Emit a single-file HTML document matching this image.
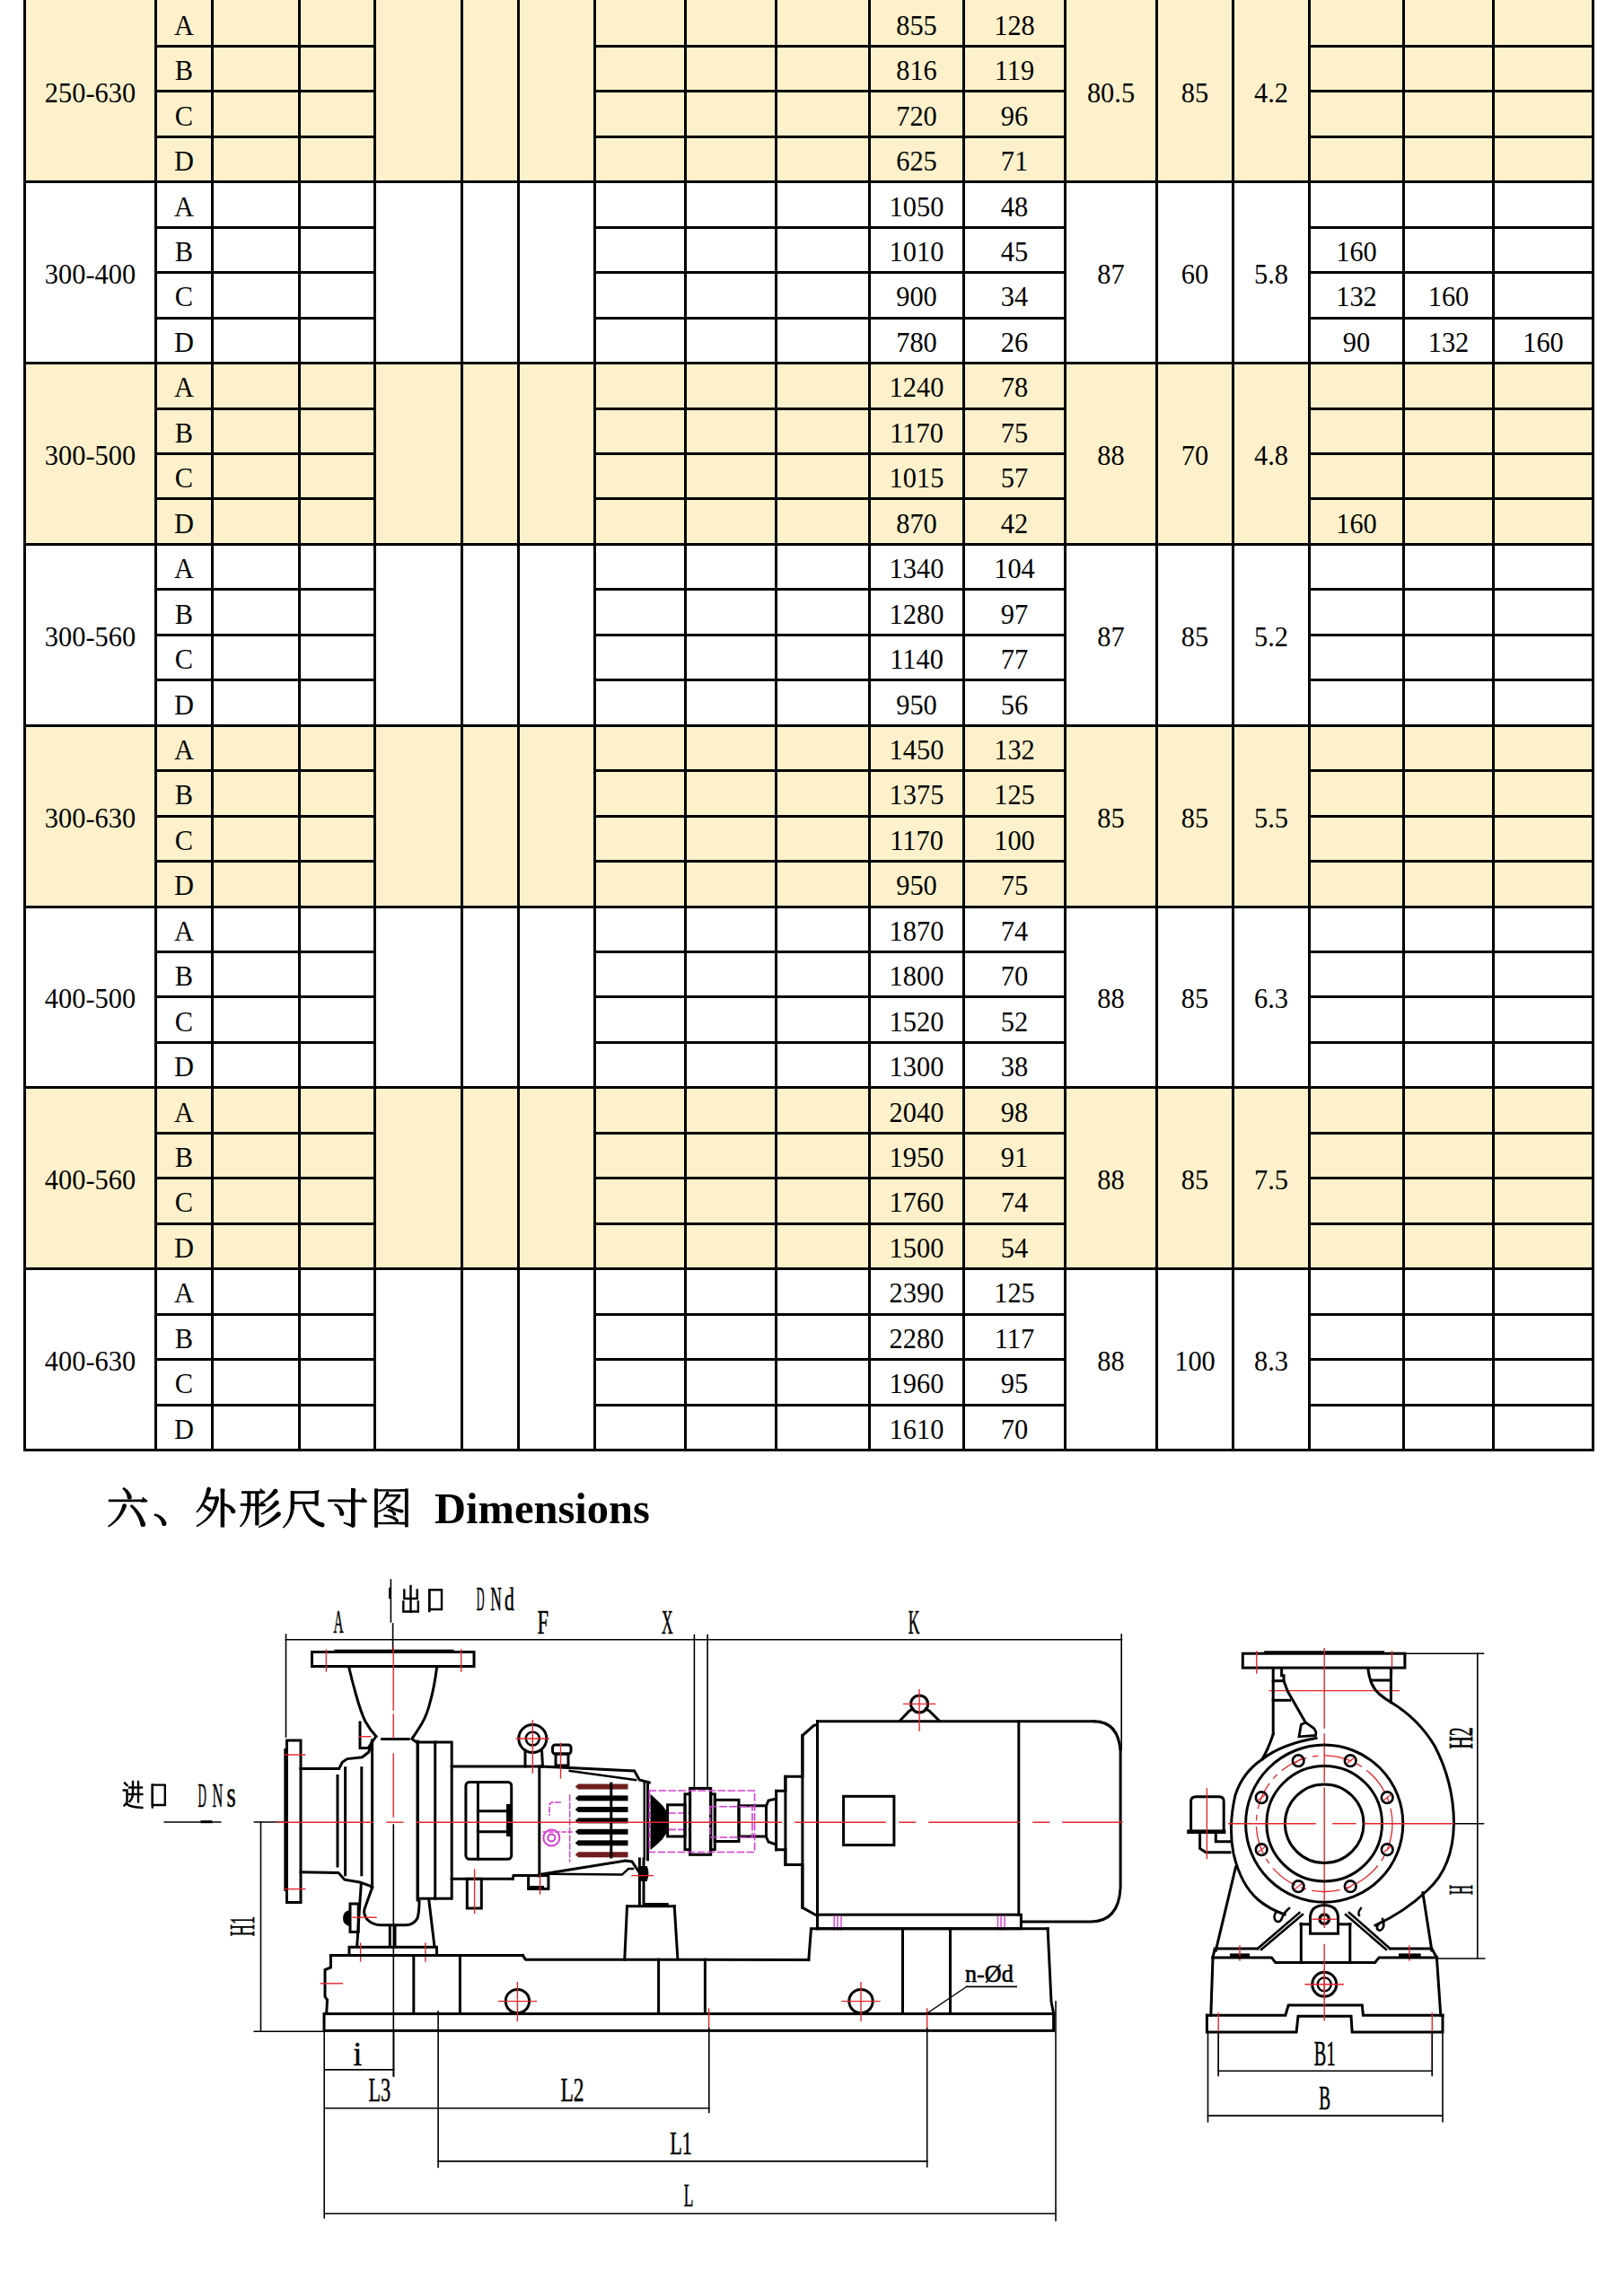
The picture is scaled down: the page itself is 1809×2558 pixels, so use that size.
<!DOCTYPE html>
<html><head><meta charset="utf-8"><title>Dimensions</title>
<style>
html,body{margin:0;padding:0;background:#fff;}
body{width:1809px;height:2558px;position:relative;overflow:hidden;font-family:"Liberation Serif",serif;}
.tbl{position:absolute;left:0;top:0;}
.hd{position:absolute;left:0;top:1640px;}
.dw{position:absolute;left:0;top:0;}
</style></head><body>
<svg class="tbl" width="1809" height="1617" viewBox="0 0 1809 1617"><g shape-rendering="crispEdges"><rect x="26" y="0.00" width="1750" height="204.35" fill="#FCF1CB"/><rect x="26" y="403.15" width="1750" height="204.80" fill="#FCF1CB"/><rect x="26" y="806.75" width="1750" height="204.80" fill="#FCF1CB"/><rect x="26" y="1210.35" width="1750" height="204.80" fill="#FCF1CB"/><rect x="172" y="50.00" width="247" height="3.00" fill="#000"/><rect x="661" y="50.00" width="527" height="3.00" fill="#000"/><rect x="1457" y="50.00" width="319" height="3.00" fill="#000"/><rect x="172" y="100.00" width="247" height="3.00" fill="#000"/><rect x="661" y="100.00" width="527" height="3.00" fill="#000"/><rect x="1457" y="100.00" width="319" height="3.00" fill="#000"/><rect x="172" y="151.00" width="247" height="3.00" fill="#000"/><rect x="661" y="151.00" width="527" height="3.00" fill="#000"/><rect x="1457" y="151.00" width="319" height="3.00" fill="#000"/><rect x="26" y="201.00" width="1750" height="3.00" fill="#000"/><rect x="172" y="252.00" width="247" height="3.00" fill="#000"/><rect x="661" y="252.00" width="527" height="3.00" fill="#000"/><rect x="1457" y="252.00" width="319" height="3.00" fill="#000"/><rect x="172" y="302.00" width="247" height="3.00" fill="#000"/><rect x="661" y="302.00" width="527" height="3.00" fill="#000"/><rect x="1457" y="302.00" width="319" height="3.00" fill="#000"/><rect x="172" y="353.00" width="247" height="3.00" fill="#000"/><rect x="661" y="353.00" width="527" height="3.00" fill="#000"/><rect x="1457" y="353.00" width="319" height="3.00" fill="#000"/><rect x="26" y="403.00" width="1750" height="3.00" fill="#000"/><rect x="172" y="454.00" width="247" height="3.00" fill="#000"/><rect x="661" y="454.00" width="527" height="3.00" fill="#000"/><rect x="1457" y="454.00" width="319" height="3.00" fill="#000"/><rect x="172" y="504.00" width="247" height="3.00" fill="#000"/><rect x="661" y="504.00" width="527" height="3.00" fill="#000"/><rect x="1457" y="504.00" width="319" height="3.00" fill="#000"/><rect x="172" y="554.00" width="247" height="3.00" fill="#000"/><rect x="661" y="554.00" width="527" height="3.00" fill="#000"/><rect x="1457" y="554.00" width="319" height="3.00" fill="#000"/><rect x="26" y="605.00" width="1750" height="3.00" fill="#000"/><rect x="172" y="655.00" width="247" height="3.00" fill="#000"/><rect x="661" y="655.00" width="527" height="3.00" fill="#000"/><rect x="1457" y="655.00" width="319" height="3.00" fill="#000"/><rect x="172" y="706.00" width="247" height="3.00" fill="#000"/><rect x="661" y="706.00" width="527" height="3.00" fill="#000"/><rect x="1457" y="706.00" width="319" height="3.00" fill="#000"/><rect x="172" y="756.00" width="247" height="3.00" fill="#000"/><rect x="661" y="756.00" width="527" height="3.00" fill="#000"/><rect x="1457" y="756.00" width="319" height="3.00" fill="#000"/><rect x="26" y="807.00" width="1750" height="3.00" fill="#000"/><rect x="172" y="857.00" width="247" height="3.00" fill="#000"/><rect x="661" y="857.00" width="527" height="3.00" fill="#000"/><rect x="1457" y="857.00" width="319" height="3.00" fill="#000"/><rect x="172" y="908.00" width="247" height="3.00" fill="#000"/><rect x="661" y="908.00" width="527" height="3.00" fill="#000"/><rect x="1457" y="908.00" width="319" height="3.00" fill="#000"/><rect x="172" y="958.00" width="247" height="3.00" fill="#000"/><rect x="661" y="958.00" width="527" height="3.00" fill="#000"/><rect x="1457" y="958.00" width="319" height="3.00" fill="#000"/><rect x="26" y="1009.00" width="1750" height="3.00" fill="#000"/><rect x="172" y="1059.00" width="247" height="3.00" fill="#000"/><rect x="661" y="1059.00" width="527" height="3.00" fill="#000"/><rect x="1457" y="1059.00" width="319" height="3.00" fill="#000"/><rect x="172" y="1109.00" width="247" height="3.00" fill="#000"/><rect x="661" y="1109.00" width="527" height="3.00" fill="#000"/><rect x="1457" y="1109.00" width="319" height="3.00" fill="#000"/><rect x="172" y="1160.00" width="247" height="3.00" fill="#000"/><rect x="661" y="1160.00" width="527" height="3.00" fill="#000"/><rect x="1457" y="1160.00" width="319" height="3.00" fill="#000"/><rect x="26" y="1210.00" width="1750" height="3.00" fill="#000"/><rect x="172" y="1261.00" width="247" height="3.00" fill="#000"/><rect x="661" y="1261.00" width="527" height="3.00" fill="#000"/><rect x="1457" y="1261.00" width="319" height="3.00" fill="#000"/><rect x="172" y="1311.00" width="247" height="3.00" fill="#000"/><rect x="661" y="1311.00" width="527" height="3.00" fill="#000"/><rect x="1457" y="1311.00" width="319" height="3.00" fill="#000"/><rect x="172" y="1362.00" width="247" height="3.00" fill="#000"/><rect x="661" y="1362.00" width="527" height="3.00" fill="#000"/><rect x="1457" y="1362.00" width="319" height="3.00" fill="#000"/><rect x="26" y="1412.00" width="1750" height="3.00" fill="#000"/><rect x="172" y="1463.00" width="247" height="3.00" fill="#000"/><rect x="661" y="1463.00" width="527" height="3.00" fill="#000"/><rect x="1457" y="1463.00" width="319" height="3.00" fill="#000"/><rect x="172" y="1513.00" width="247" height="3.00" fill="#000"/><rect x="661" y="1513.00" width="527" height="3.00" fill="#000"/><rect x="1457" y="1513.00" width="319" height="3.00" fill="#000"/><rect x="172" y="1564.00" width="247" height="3.00" fill="#000"/><rect x="661" y="1564.00" width="527" height="3.00" fill="#000"/><rect x="1457" y="1564.00" width="319" height="3.00" fill="#000"/><rect x="26" y="1614.00" width="1750" height="3.00" fill="#000"/><rect x="26" y="0.00" width="3" height="1617.00" fill="#000"/><rect x="172" y="0.00" width="3" height="1617.00" fill="#000"/><rect x="235" y="0.00" width="3" height="1617.00" fill="#000"/><rect x="332" y="0.00" width="3" height="1617.00" fill="#000"/><rect x="416" y="0.00" width="3" height="1617.00" fill="#000"/><rect x="513" y="0.00" width="3" height="1617.00" fill="#000"/><rect x="576" y="0.00" width="3" height="1617.00" fill="#000"/><rect x="661" y="0.00" width="3" height="1617.00" fill="#000"/><rect x="762" y="0.00" width="3" height="1617.00" fill="#000"/><rect x="863" y="0.00" width="3" height="1617.00" fill="#000"/><rect x="967" y="0.00" width="3" height="1617.00" fill="#000"/><rect x="1072" y="0.00" width="3" height="1617.00" fill="#000"/><rect x="1185" y="0.00" width="3" height="1617.00" fill="#000"/><rect x="1287" y="0.00" width="3" height="1617.00" fill="#000"/><rect x="1372" y="0.00" width="3" height="1617.00" fill="#000"/><rect x="1457" y="0.00" width="3" height="1617.00" fill="#000"/><rect x="1562" y="0.00" width="3" height="1617.00" fill="#000"/><rect x="1662" y="0.00" width="3" height="1617.00" fill="#000"/><rect x="1773" y="0.00" width="3" height="1617.00" fill="#000"/></g><g font-family="Liberation Serif, serif" font-size="32" text-anchor="middle" fill="#000"><text transform="translate(100.5 114.45) scale(0.95 1)">250-630</text><text transform="translate(1237.5 114.45) scale(0.95 1)">80.5</text><text transform="translate(1331.0 114.45) scale(0.95 1)">85</text><text transform="translate(1416.0 114.45) scale(0.95 1)">4.2</text><text transform="translate(205.0 38.77) scale(0.95 1)">A</text><text transform="translate(1021.0 38.77) scale(0.95 1)">855</text><text transform="translate(1130.0 38.77) scale(0.95 1)">128</text><text transform="translate(205.0 89.22) scale(0.95 1)">B</text><text transform="translate(1021.0 89.22) scale(0.95 1)">816</text><text transform="translate(1130.0 89.22) scale(0.95 1)">119</text><text transform="translate(205.0 139.68) scale(0.95 1)">C</text><text transform="translate(1021.0 139.68) scale(0.95 1)">720</text><text transform="translate(1130.0 139.68) scale(0.95 1)">96</text><text transform="translate(205.0 190.12) scale(0.95 1)">D</text><text transform="translate(1021.0 190.12) scale(0.95 1)">625</text><text transform="translate(1130.0 190.12) scale(0.95 1)">71</text><text transform="translate(100.5 316.25) scale(0.95 1)">300-400</text><text transform="translate(1237.5 316.25) scale(0.95 1)">87</text><text transform="translate(1331.0 316.25) scale(0.95 1)">60</text><text transform="translate(1416.0 316.25) scale(0.95 1)">5.8</text><text transform="translate(205.0 240.58) scale(0.95 1)">A</text><text transform="translate(1021.0 240.58) scale(0.95 1)">1050</text><text transform="translate(1130.0 240.58) scale(0.95 1)">48</text><text transform="translate(205.0 291.02) scale(0.95 1)">B</text><text transform="translate(1021.0 291.02) scale(0.95 1)">1010</text><text transform="translate(1130.0 291.02) scale(0.95 1)">45</text><text transform="translate(1511.0 291.02) scale(0.95 1)">160</text><text transform="translate(205.0 341.48) scale(0.95 1)">C</text><text transform="translate(1021.0 341.48) scale(0.95 1)">900</text><text transform="translate(1130.0 341.48) scale(0.95 1)">34</text><text transform="translate(1511.0 341.48) scale(0.95 1)">132</text><text transform="translate(1613.5 341.48) scale(0.95 1)">160</text><text transform="translate(205.0 391.93) scale(0.95 1)">D</text><text transform="translate(1021.0 391.93) scale(0.95 1)">780</text><text transform="translate(1130.0 391.93) scale(0.95 1)">26</text><text transform="translate(1511.0 391.93) scale(0.95 1)">90</text><text transform="translate(1613.5 391.93) scale(0.95 1)">132</text><text transform="translate(1719.0 391.93) scale(0.95 1)">160</text><text transform="translate(100.5 518.05) scale(0.95 1)">300-500</text><text transform="translate(1237.5 518.05) scale(0.95 1)">88</text><text transform="translate(1331.0 518.05) scale(0.95 1)">70</text><text transform="translate(1416.0 518.05) scale(0.95 1)">4.8</text><text transform="translate(205.0 442.38) scale(0.95 1)">A</text><text transform="translate(1021.0 442.38) scale(0.95 1)">1240</text><text transform="translate(1130.0 442.38) scale(0.95 1)">78</text><text transform="translate(205.0 492.83) scale(0.95 1)">B</text><text transform="translate(1021.0 492.83) scale(0.95 1)">1170</text><text transform="translate(1130.0 492.83) scale(0.95 1)">75</text><text transform="translate(205.0 543.27) scale(0.95 1)">C</text><text transform="translate(1021.0 543.27) scale(0.95 1)">1015</text><text transform="translate(1130.0 543.27) scale(0.95 1)">57</text><text transform="translate(205.0 593.73) scale(0.95 1)">D</text><text transform="translate(1021.0 593.73) scale(0.95 1)">870</text><text transform="translate(1130.0 593.73) scale(0.95 1)">42</text><text transform="translate(1511.0 593.73) scale(0.95 1)">160</text><text transform="translate(100.5 719.85) scale(0.95 1)">300-560</text><text transform="translate(1237.5 719.85) scale(0.95 1)">87</text><text transform="translate(1331.0 719.85) scale(0.95 1)">85</text><text transform="translate(1416.0 719.85) scale(0.95 1)">5.2</text><text transform="translate(205.0 644.18) scale(0.95 1)">A</text><text transform="translate(1021.0 644.18) scale(0.95 1)">1340</text><text transform="translate(1130.0 644.18) scale(0.95 1)">104</text><text transform="translate(205.0 694.62) scale(0.95 1)">B</text><text transform="translate(1021.0 694.62) scale(0.95 1)">1280</text><text transform="translate(1130.0 694.62) scale(0.95 1)">97</text><text transform="translate(205.0 745.08) scale(0.95 1)">C</text><text transform="translate(1021.0 745.08) scale(0.95 1)">1140</text><text transform="translate(1130.0 745.08) scale(0.95 1)">77</text><text transform="translate(205.0 795.53) scale(0.95 1)">D</text><text transform="translate(1021.0 795.53) scale(0.95 1)">950</text><text transform="translate(1130.0 795.53) scale(0.95 1)">56</text><text transform="translate(100.5 921.65) scale(0.95 1)">300-630</text><text transform="translate(1237.5 921.65) scale(0.95 1)">85</text><text transform="translate(1331.0 921.65) scale(0.95 1)">85</text><text transform="translate(1416.0 921.65) scale(0.95 1)">5.5</text><text transform="translate(205.0 845.98) scale(0.95 1)">A</text><text transform="translate(1021.0 845.98) scale(0.95 1)">1450</text><text transform="translate(1130.0 845.98) scale(0.95 1)">132</text><text transform="translate(205.0 896.43) scale(0.95 1)">B</text><text transform="translate(1021.0 896.43) scale(0.95 1)">1375</text><text transform="translate(1130.0 896.43) scale(0.95 1)">125</text><text transform="translate(205.0 946.88) scale(0.95 1)">C</text><text transform="translate(1021.0 946.88) scale(0.95 1)">1170</text><text transform="translate(1130.0 946.88) scale(0.95 1)">100</text><text transform="translate(205.0 997.33) scale(0.95 1)">D</text><text transform="translate(1021.0 997.33) scale(0.95 1)">950</text><text transform="translate(1130.0 997.33) scale(0.95 1)">75</text><text transform="translate(100.5 1123.45) scale(0.95 1)">400-500</text><text transform="translate(1237.5 1123.45) scale(0.95 1)">88</text><text transform="translate(1331.0 1123.45) scale(0.95 1)">85</text><text transform="translate(1416.0 1123.45) scale(0.95 1)">6.3</text><text transform="translate(205.0 1047.78) scale(0.95 1)">A</text><text transform="translate(1021.0 1047.78) scale(0.95 1)">1870</text><text transform="translate(1130.0 1047.78) scale(0.95 1)">74</text><text transform="translate(205.0 1098.22) scale(0.95 1)">B</text><text transform="translate(1021.0 1098.22) scale(0.95 1)">1800</text><text transform="translate(1130.0 1098.22) scale(0.95 1)">70</text><text transform="translate(205.0 1148.68) scale(0.95 1)">C</text><text transform="translate(1021.0 1148.68) scale(0.95 1)">1520</text><text transform="translate(1130.0 1148.68) scale(0.95 1)">52</text><text transform="translate(205.0 1199.12) scale(0.95 1)">D</text><text transform="translate(1021.0 1199.12) scale(0.95 1)">1300</text><text transform="translate(1130.0 1199.12) scale(0.95 1)">38</text><text transform="translate(100.5 1325.25) scale(0.95 1)">400-560</text><text transform="translate(1237.5 1325.25) scale(0.95 1)">88</text><text transform="translate(1331.0 1325.25) scale(0.95 1)">85</text><text transform="translate(1416.0 1325.25) scale(0.95 1)">7.5</text><text transform="translate(205.0 1249.58) scale(0.95 1)">A</text><text transform="translate(1021.0 1249.58) scale(0.95 1)">2040</text><text transform="translate(1130.0 1249.58) scale(0.95 1)">98</text><text transform="translate(205.0 1300.03) scale(0.95 1)">B</text><text transform="translate(1021.0 1300.03) scale(0.95 1)">1950</text><text transform="translate(1130.0 1300.03) scale(0.95 1)">91</text><text transform="translate(205.0 1350.47) scale(0.95 1)">C</text><text transform="translate(1021.0 1350.47) scale(0.95 1)">1760</text><text transform="translate(1130.0 1350.47) scale(0.95 1)">74</text><text transform="translate(205.0 1400.93) scale(0.95 1)">D</text><text transform="translate(1021.0 1400.93) scale(0.95 1)">1500</text><text transform="translate(1130.0 1400.93) scale(0.95 1)">54</text><text transform="translate(100.5 1527.05) scale(0.95 1)">400-630</text><text transform="translate(1237.5 1527.05) scale(0.95 1)">88</text><text transform="translate(1331.0 1527.05) scale(0.95 1)">100</text><text transform="translate(1416.0 1527.05) scale(0.95 1)">8.3</text><text transform="translate(205.0 1451.38) scale(0.95 1)">A</text><text transform="translate(1021.0 1451.38) scale(0.95 1)">2390</text><text transform="translate(1130.0 1451.38) scale(0.95 1)">125</text><text transform="translate(205.0 1501.83) scale(0.95 1)">B</text><text transform="translate(1021.0 1501.83) scale(0.95 1)">2280</text><text transform="translate(1130.0 1501.83) scale(0.95 1)">117</text><text transform="translate(205.0 1552.28) scale(0.95 1)">C</text><text transform="translate(1021.0 1552.28) scale(0.95 1)">1960</text><text transform="translate(1130.0 1552.28) scale(0.95 1)">95</text><text transform="translate(205.0 1602.72) scale(0.95 1)">D</text><text transform="translate(1021.0 1602.72) scale(0.95 1)">1610</text><text transform="translate(1130.0 1602.72) scale(0.95 1)">70</text></g></svg>
<svg class="hd0" style="position:absolute;left:0;top:0" width="800" height="1720" viewBox="0 0 800 1720">
<g fill="#000" stroke="none"><path d="M137.09 1659.69 L137.59 1660.11 L138.04 1660.53 L138.46 1660.97 L138.85 1661.43 L139.22 1661.91 L139.56 1662.41 L139.88 1662.93 L140.18 1663.47 L140.45 1664.03 L140.71 1664.62 L140.94 1665.23 L141.15 1665.86 L141.34 1666.51 L141.51 1667.19 L141.65 1667.90 L141.79 1668.68 L146.61 1667.32 L146.30 1666.50 L145.95 1665.67 L145.58 1664.87 L145.18 1664.09 L144.75 1663.35 L144.30 1662.65 L143.82 1661.97 L143.32 1661.33 L142.79 1660.73 L142.24 1660.15 L141.67 1659.62 L141.07 1659.12 L140.45 1658.66 L139.82 1658.23 L139.16 1657.85 L138.51 1657.51Z"/><circle cx="137.80" cy="1658.60" r="1.30"/><circle cx="144.20" cy="1668.00" r="2.50"/>
<path d="M120.80 1673.25 L123.47 1673.26 L126.14 1673.27 L128.81 1673.28 L131.48 1673.29 L134.14 1673.30 L136.81 1673.31 L139.48 1673.32 L142.15 1673.33 L144.82 1673.33 L147.49 1673.34 L150.16 1673.35 L152.82 1673.36 L155.49 1673.37 L158.16 1673.38 L160.83 1673.39 L163.50 1673.40 L163.50 1670.40 L160.83 1670.41 L158.16 1670.42 L155.49 1670.43 L152.82 1670.44 L150.16 1670.45 L147.49 1670.46 L144.82 1670.47 L142.15 1670.48 L139.48 1670.48 L136.81 1670.49 L134.14 1670.50 L131.48 1670.51 L128.81 1670.52 L126.14 1670.53 L123.47 1670.54 L120.80 1670.55Z"/><path d="M157.50 1673.40 L159.00 1667.40 L165.00 1672.90Z"/>
<path d="M136.42 1676.86 L135.92 1678.62 L135.37 1680.30 L134.75 1681.94 L134.06 1683.55 L133.31 1685.12 L132.49 1686.65 L131.60 1688.15 L130.65 1689.60 L129.62 1691.03 L128.53 1692.41 L127.36 1693.76 L126.13 1695.07 L124.82 1696.34 L123.44 1697.58 L121.99 1698.77 L120.45 1699.94 L121.35 1701.26 L123.02 1700.23 L124.65 1699.14 L126.21 1698.00 L127.71 1696.80 L129.15 1695.56 L130.53 1694.26 L131.85 1692.90 L133.10 1691.50 L134.29 1690.03 L135.42 1688.52 L136.48 1686.95 L137.48 1685.32 L138.41 1683.65 L139.27 1681.92 L140.06 1680.13 L140.78 1678.34Z"/><circle cx="138.60" cy="1677.60" r="2.30"/><circle cx="120.90" cy="1700.60" r="0.80"/>
<path d="M145.57 1678.89 L146.59 1679.96 L147.55 1681.05 L148.47 1682.17 L149.34 1683.31 L150.18 1684.48 L150.97 1685.67 L151.72 1686.90 L152.44 1688.15 L153.11 1689.43 L153.74 1690.74 L154.34 1692.08 L154.89 1693.44 L155.41 1694.84 L155.88 1696.26 L156.32 1697.71 L156.73 1699.23 L161.87 1697.57 L161.29 1696.02 L160.66 1694.47 L159.99 1692.96 L159.27 1691.48 L158.52 1690.04 L157.72 1688.64 L156.89 1687.28 L156.01 1685.95 L155.10 1684.66 L154.14 1683.41 L153.15 1682.19 L152.12 1681.02 L151.05 1679.88 L149.94 1678.78 L148.80 1677.72 L147.63 1676.71Z"/><circle cx="146.60" cy="1677.80" r="1.50"/><circle cx="159.30" cy="1698.40" r="2.70"/>
<path d="M172.43 1688.84 L173.31 1689.22 L174.11 1689.62 L174.86 1690.06 L175.55 1690.52 L176.20 1691.01 L176.79 1691.53 L177.33 1692.07 L177.83 1692.64 L178.28 1693.23 L178.69 1693.85 L179.05 1694.50 L179.38 1695.17 L179.67 1695.87 L179.92 1696.61 L180.14 1697.37 L180.34 1698.24 L185.26 1696.56 L184.85 1695.62 L184.36 1694.65 L183.83 1693.74 L183.25 1692.87 L182.62 1692.05 L181.95 1691.28 L181.23 1690.57 L180.47 1689.91 L179.68 1689.31 L178.84 1688.76 L177.98 1688.26 L177.07 1687.82 L176.14 1687.43 L175.17 1687.09 L174.17 1686.79 L173.17 1686.56Z"/><circle cx="172.80" cy="1687.70" r="1.20"/><circle cx="182.80" cy="1697.40" r="2.60"/>
<path d="M230.28 1658.60 L229.91 1660.43 L229.50 1662.19 L229.05 1663.92 L228.55 1665.63 L228.00 1667.31 L227.40 1668.96 L226.75 1670.58 L226.06 1672.18 L225.32 1673.75 L224.52 1675.29 L223.68 1676.80 L222.79 1678.29 L221.85 1679.75 L220.85 1681.18 L219.81 1682.58 L218.70 1683.97 L219.90 1685.03 L221.17 1683.76 L222.41 1682.44 L223.60 1681.08 L224.75 1679.67 L225.85 1678.23 L226.91 1676.75 L227.92 1675.23 L228.89 1673.67 L229.81 1672.07 L230.69 1670.43 L231.51 1668.75 L232.29 1667.03 L233.02 1665.27 L233.71 1663.48 L234.34 1661.64 L234.92 1659.80Z"/><circle cx="232.60" cy="1659.20" r="2.40"/><circle cx="219.30" cy="1684.50" r="0.80"/>
<path d="M228.60 1670.35 L229.41 1670.36 L230.21 1670.37 L231.02 1670.38 L231.83 1670.39 L232.63 1670.40 L233.44 1670.41 L234.24 1670.42 L235.05 1670.42 L235.86 1670.43 L236.66 1670.44 L237.47 1670.45 L238.28 1670.46 L239.08 1670.47 L239.89 1670.48 L240.69 1670.49 L241.50 1670.50 L241.50 1667.50 L240.69 1667.51 L239.89 1667.52 L239.08 1667.53 L238.28 1667.54 L237.47 1667.55 L236.66 1667.56 L235.86 1667.57 L235.05 1667.58 L234.24 1667.58 L233.44 1667.59 L232.63 1667.60 L231.83 1667.61 L231.02 1667.62 L230.21 1667.63 L229.41 1667.64 L228.60 1667.65Z"/>
<path d="M239.64 1668.80 L239.26 1671.32 L238.77 1673.70 L238.17 1676.01 L237.44 1678.25 L236.59 1680.41 L235.62 1682.50 L234.53 1684.52 L233.31 1686.47 L231.97 1688.35 L230.50 1690.16 L228.90 1691.89 L227.16 1693.56 L225.30 1695.15 L223.31 1696.67 L221.18 1698.12 L218.91 1699.50 L219.69 1700.90 L222.09 1699.65 L224.39 1698.29 L226.58 1696.85 L228.65 1695.32 L230.60 1693.69 L232.43 1691.96 L234.15 1690.15 L235.74 1688.23 L237.21 1686.22 L238.56 1684.12 L239.78 1681.92 L240.87 1679.63 L241.84 1677.24 L242.68 1674.76 L243.39 1672.20 L243.96 1669.60Z"/><circle cx="241.80" cy="1669.20" r="2.20"/><circle cx="219.30" cy="1700.20" r="0.80"/>
<path d="M226.74 1679.03 L227.10 1679.32 L227.45 1679.61 L227.81 1679.89 L228.17 1680.18 L228.53 1680.47 L228.88 1680.76 L229.24 1681.05 L229.60 1681.33 L229.95 1681.62 L230.31 1681.91 L230.67 1682.20 L231.02 1682.49 L231.38 1682.77 L231.74 1683.06 L232.10 1683.35 L232.45 1683.64 L234.75 1680.36 L234.35 1680.12 L233.96 1679.89 L233.57 1679.65 L233.18 1679.41 L232.78 1679.18 L232.39 1678.94 L232.00 1678.70 L231.60 1678.47 L231.21 1678.23 L230.82 1677.99 L230.42 1677.76 L230.03 1677.52 L229.64 1677.28 L229.25 1677.04 L228.85 1676.81 L228.46 1676.57Z"/><circle cx="227.60" cy="1677.80" r="1.50"/><circle cx="233.60" cy="1682.00" r="2.00"/>
<path d="M245.70 1658.60 L245.70 1661.29 L245.70 1663.97 L245.70 1666.66 L245.70 1669.35 L245.70 1672.04 L245.70 1674.72 L245.70 1677.41 L245.70 1680.10 L245.70 1682.79 L245.70 1685.47 L245.70 1688.16 L245.70 1690.85 L245.70 1693.54 L245.70 1696.22 L245.70 1698.91 L245.70 1701.60 L250.10 1701.60 L250.10 1698.91 L250.10 1696.22 L250.10 1693.54 L250.10 1690.85 L250.10 1688.16 L250.10 1685.47 L250.10 1682.79 L250.10 1680.10 L250.10 1677.41 L250.10 1674.72 L250.10 1672.04 L250.10 1669.35 L250.10 1666.66 L250.10 1663.97 L250.10 1661.29 L250.10 1658.60Z"/>
<path d="M245.70 1658.60 L250.60 1659.50 L250.10 1662.50 L245.70 1662.50Z"/>
<path d="M249.57 1677.56 L250.39 1677.85 L251.14 1678.16 L251.85 1678.50 L252.52 1678.86 L253.15 1679.25 L253.73 1679.66 L254.27 1680.09 L254.78 1680.54 L255.24 1681.01 L255.67 1681.50 L256.06 1682.01 L256.42 1682.54 L256.75 1683.09 L257.05 1683.67 L257.31 1684.27 L257.58 1684.95 L262.02 1682.65 L261.55 1681.92 L261.02 1681.16 L260.45 1680.44 L259.84 1679.77 L259.20 1679.14 L258.52 1678.55 L257.81 1678.01 L257.07 1677.51 L256.30 1677.06 L255.51 1676.64 L254.69 1676.28 L253.84 1675.95 L252.97 1675.66 L252.07 1675.42 L251.15 1675.21 L250.23 1675.04Z"/><circle cx="249.90" cy="1676.30" r="1.30"/><circle cx="259.80" cy="1683.80" r="2.50"/>
<path d="M269.00 1663.95 L270.60 1663.96 L272.20 1663.97 L273.80 1663.98 L275.40 1663.99 L277.00 1664.00 L278.60 1664.01 L280.20 1664.02 L281.80 1664.02 L283.40 1664.03 L285.00 1664.04 L286.60 1664.05 L288.20 1664.06 L289.80 1664.07 L291.40 1664.08 L293.00 1664.09 L294.60 1664.10 L294.60 1661.10 L293.00 1661.11 L291.40 1661.12 L289.80 1661.13 L288.20 1661.14 L286.60 1661.15 L285.00 1661.16 L283.40 1661.17 L281.80 1661.17 L280.20 1661.18 L278.60 1661.19 L277.00 1661.20 L275.40 1661.21 L273.80 1661.22 L272.20 1661.23 L270.60 1661.24 L269.00 1661.25Z"/><path d="M288.60 1664.10 L290.10 1658.10 L296.10 1663.60Z"/>
<path d="M267.68 1677.75 L269.41 1677.78 L271.13 1677.82 L272.86 1677.85 L274.58 1677.89 L276.30 1677.92 L278.03 1677.96 L279.75 1677.99 L281.48 1678.02 L283.20 1678.06 L284.93 1678.09 L286.65 1678.13 L288.38 1678.16 L290.10 1678.20 L291.83 1678.23 L293.55 1678.27 L295.28 1678.30 L295.32 1675.30 L293.60 1675.28 L291.87 1675.27 L290.15 1675.25 L288.42 1675.24 L286.70 1675.22 L284.97 1675.21 L283.25 1675.19 L281.52 1675.18 L279.80 1675.16 L278.07 1675.14 L276.35 1675.13 L274.62 1675.11 L272.89 1675.10 L271.17 1675.08 L269.44 1675.07 L267.72 1675.05Z"/><path d="M289.30 1678.30 L290.80 1672.30 L296.80 1677.80Z"/>
<path d="M275.30 1663.50 L275.30 1664.34 L275.30 1665.19 L275.30 1666.03 L275.30 1666.88 L275.30 1667.72 L275.30 1668.56 L275.30 1669.41 L275.30 1670.25 L275.30 1671.09 L275.30 1671.94 L275.30 1672.78 L275.30 1673.62 L275.30 1674.47 L275.30 1675.31 L275.30 1676.16 L275.30 1677.00 L279.30 1677.00 L279.30 1676.16 L279.30 1675.31 L279.30 1674.47 L279.30 1673.62 L279.30 1672.78 L279.30 1671.94 L279.30 1671.09 L279.30 1670.25 L279.30 1669.41 L279.30 1668.56 L279.30 1667.72 L279.30 1666.88 L279.30 1666.03 L279.30 1665.19 L279.30 1664.34 L279.30 1663.50Z"/>
<path d="M275.30 1676.87 L275.26 1678.69 L275.16 1680.43 L275.00 1682.12 L274.78 1683.76 L274.50 1685.36 L274.16 1686.91 L273.76 1688.42 L273.30 1689.88 L272.78 1691.30 L272.19 1692.67 L271.54 1694.01 L270.83 1695.30 L270.06 1696.54 L269.22 1697.75 L268.31 1698.91 L267.32 1700.05 L268.48 1701.15 L269.60 1700.09 L270.68 1698.95 L271.71 1697.76 L272.67 1696.50 L273.57 1695.19 L274.41 1693.83 L275.19 1692.40 L275.90 1690.92 L276.55 1689.38 L277.14 1687.79 L277.66 1686.14 L278.12 1684.44 L278.51 1682.68 L278.84 1680.87 L279.10 1679.01 L279.30 1677.13Z"/><circle cx="277.30" cy="1677.00" r="2.00"/><circle cx="267.90" cy="1700.60" r="0.80"/>
<path d="M284.20 1663.50 L284.20 1665.74 L284.20 1667.99 L284.20 1670.23 L284.20 1672.48 L284.20 1674.72 L284.20 1676.96 L284.20 1679.21 L284.20 1681.45 L284.20 1683.69 L284.20 1685.94 L284.20 1688.18 L284.20 1690.43 L284.20 1692.67 L284.20 1694.91 L284.20 1697.16 L284.20 1699.40 L288.40 1699.40 L288.40 1697.16 L288.40 1694.91 L288.40 1692.67 L288.40 1690.43 L288.40 1688.18 L288.40 1685.94 L288.40 1683.69 L288.40 1681.45 L288.40 1679.21 L288.40 1676.96 L288.40 1674.72 L288.40 1672.48 L288.40 1670.23 L288.40 1667.99 L288.40 1665.74 L288.40 1663.50Z"/>
<path d="M304.87 1659.61 L304.18 1660.62 L303.48 1661.59 L302.76 1662.54 L302.03 1663.47 L301.28 1664.38 L300.51 1665.28 L299.73 1666.15 L298.92 1667.00 L298.10 1667.83 L297.26 1668.65 L296.40 1669.44 L295.51 1670.21 L294.62 1670.97 L293.70 1671.70 L292.76 1672.41 L291.79 1673.11 L292.61 1674.49 L293.70 1673.96 L294.79 1673.40 L295.87 1672.82 L296.94 1672.21 L297.99 1671.57 L299.03 1670.91 L300.06 1670.22 L301.08 1669.50 L302.08 1668.75 L303.07 1667.98 L304.05 1667.18 L305.02 1666.35 L305.97 1665.50 L306.91 1664.62 L307.83 1663.71 L308.73 1662.79Z"/><circle cx="306.80" cy="1661.20" r="2.50"/><circle cx="292.20" cy="1673.80" r="0.80"/>
<path d="M306.36 1672.31 L305.55 1673.35 L304.73 1674.34 L303.90 1675.32 L303.04 1676.28 L302.16 1677.21 L301.26 1678.12 L300.34 1679.02 L299.40 1679.89 L298.43 1680.74 L297.45 1681.57 L296.44 1682.37 L295.40 1683.16 L294.35 1683.92 L293.27 1684.67 L292.17 1685.39 L291.03 1686.09 L291.77 1687.51 L293.01 1686.99 L294.26 1686.43 L295.48 1685.85 L296.70 1685.24 L297.90 1684.60 L299.08 1683.93 L300.25 1683.24 L301.40 1682.51 L302.54 1681.76 L303.66 1680.98 L304.77 1680.17 L305.86 1679.32 L306.93 1678.46 L307.99 1677.56 L309.03 1676.63 L310.04 1675.69Z"/><circle cx="308.20" cy="1674.00" r="2.50"/><circle cx="291.40" cy="1686.80" r="0.80"/>
<path d="M308.38 1684.94 L307.32 1686.13 L306.26 1687.28 L305.16 1688.40 L304.05 1689.49 L302.90 1690.56 L301.73 1691.59 L300.53 1692.61 L299.30 1693.59 L298.05 1694.55 L296.76 1695.48 L295.45 1696.38 L294.12 1697.25 L292.75 1698.10 L291.36 1698.91 L289.94 1699.70 L288.48 1700.47 L289.12 1701.93 L290.69 1701.37 L292.25 1700.76 L293.79 1700.12 L295.31 1699.45 L296.81 1698.74 L298.29 1698.00 L299.75 1697.22 L301.20 1696.41 L302.62 1695.56 L304.03 1694.68 L305.41 1693.76 L306.78 1692.81 L308.13 1691.82 L309.45 1690.80 L310.75 1689.73 L312.02 1688.66Z"/><circle cx="310.20" cy="1686.80" r="2.60"/><circle cx="288.80" cy="1701.20" r="0.80"/>
<path d="M325.70 1663.95 L327.36 1663.96 L329.02 1663.97 L330.69 1663.98 L332.35 1663.99 L334.01 1664.00 L335.68 1664.01 L337.34 1664.02 L339.00 1664.02 L340.66 1664.03 L342.32 1664.04 L343.99 1664.05 L345.65 1664.06 L347.31 1664.07 L348.98 1664.08 L350.64 1664.09 L352.30 1664.10 L352.30 1661.10 L350.64 1661.11 L348.98 1661.12 L347.31 1661.13 L345.65 1661.14 L343.99 1661.15 L342.32 1661.16 L340.66 1661.17 L339.00 1661.17 L337.34 1661.18 L335.68 1661.19 L334.01 1661.20 L332.35 1661.21 L330.69 1661.22 L329.02 1661.23 L327.36 1661.24 L325.70 1661.25Z"/>
<path d="M350.60 1661.00 L350.60 1662.04 L350.60 1663.08 L350.60 1664.11 L350.60 1665.15 L350.60 1666.19 L350.60 1667.22 L350.60 1668.26 L350.60 1669.30 L350.60 1670.34 L350.60 1671.38 L350.60 1672.41 L350.60 1673.45 L350.60 1674.49 L350.60 1675.52 L350.60 1676.56 L350.60 1677.60 L354.60 1677.60 L354.60 1676.56 L354.60 1675.52 L354.60 1674.49 L354.60 1673.45 L354.60 1672.41 L354.60 1671.38 L354.60 1670.34 L354.60 1669.30 L354.60 1668.26 L354.60 1667.22 L354.60 1666.19 L354.60 1665.15 L354.60 1664.11 L354.60 1663.08 L354.60 1662.04 L354.60 1661.00Z"/>
<path d="M350.40 1660.80 L355.60 1660.20 L354.80 1663.50Z"/>
<path d="M323.70 1661.00 L323.70 1662.12 L323.70 1663.25 L323.70 1664.38 L323.70 1665.50 L323.70 1666.62 L323.70 1667.75 L323.70 1668.88 L323.70 1670.00 L323.70 1671.12 L323.70 1672.25 L323.70 1673.38 L323.70 1674.50 L323.70 1675.62 L323.70 1676.75 L323.70 1677.88 L323.70 1679.00 L327.90 1679.00 L327.90 1677.88 L327.90 1676.75 L327.90 1675.62 L327.90 1674.50 L327.90 1673.38 L327.90 1672.25 L327.90 1671.12 L327.90 1670.00 L327.90 1668.88 L327.90 1667.75 L327.90 1666.62 L327.90 1665.50 L327.90 1664.38 L327.90 1663.25 L327.90 1662.12 L327.90 1661.00Z"/>
<path d="M323.71 1678.84 L323.66 1680.53 L323.55 1682.15 L323.37 1683.73 L323.13 1685.27 L322.83 1686.78 L322.46 1688.26 L322.03 1689.70 L321.53 1691.11 L320.96 1692.48 L320.32 1693.83 L319.62 1695.14 L318.85 1696.42 L318.01 1697.67 L317.09 1698.88 L316.11 1700.07 L315.04 1701.23 L316.16 1702.37 L317.37 1701.29 L318.54 1700.15 L319.64 1698.97 L320.68 1697.73 L321.65 1696.45 L322.56 1695.11 L323.40 1693.73 L324.17 1692.29 L324.88 1690.81 L325.52 1689.28 L326.09 1687.70 L326.59 1686.08 L327.02 1684.41 L327.38 1682.69 L327.68 1680.93 L327.89 1679.16Z"/><circle cx="325.80" cy="1679.00" r="2.10"/><circle cx="315.60" cy="1701.80" r="0.80"/>
<path d="M326.70 1675.75 L328.30 1675.76 L329.90 1675.77 L331.50 1675.78 L333.10 1675.79 L334.70 1675.80 L336.30 1675.81 L337.90 1675.82 L339.50 1675.83 L341.10 1675.83 L342.70 1675.84 L344.30 1675.85 L345.90 1675.86 L347.50 1675.87 L349.10 1675.88 L350.70 1675.89 L352.30 1675.90 L352.30 1672.90 L350.70 1672.91 L349.10 1672.92 L347.50 1672.93 L345.90 1672.94 L344.30 1672.95 L342.70 1672.96 L341.10 1672.97 L339.50 1672.98 L337.90 1672.98 L336.30 1672.99 L334.70 1673.00 L333.10 1673.01 L331.50 1673.02 L329.90 1673.03 L328.30 1673.04 L326.70 1673.05Z"/>
<path d="M336.94 1676.15 L337.46 1678.43 L338.09 1680.65 L338.82 1682.78 L339.66 1684.81 L340.61 1686.75 L341.67 1688.60 L342.84 1690.35 L344.12 1692.00 L345.51 1693.55 L347.01 1694.99 L348.63 1696.33 L350.35 1697.57 L352.18 1698.69 L354.11 1699.70 L356.14 1700.60 L358.20 1701.37 L359.80 1696.63 L357.83 1696.04 L356.03 1695.38 L354.31 1694.63 L352.69 1693.78 L351.15 1692.84 L349.69 1691.79 L348.32 1690.65 L347.03 1689.40 L345.82 1688.05 L344.69 1686.59 L343.64 1685.02 L342.67 1683.34 L341.79 1681.55 L340.99 1679.64 L340.29 1677.62 L339.66 1675.45Z"/><circle cx="338.30" cy="1675.80" r="1.40"/><circle cx="359.00" cy="1699.00" r="2.50"/>
<path d="M365.19 1673.25 L367.88 1673.28 L370.57 1673.31 L373.25 1673.33 L375.94 1673.36 L378.63 1673.39 L381.32 1673.42 L384.00 1673.45 L386.69 1673.47 L389.38 1673.50 L392.06 1673.53 L394.75 1673.56 L397.44 1673.59 L400.13 1673.62 L402.81 1673.64 L405.50 1673.67 L408.19 1673.70 L408.21 1670.70 L405.52 1670.69 L402.84 1670.68 L400.15 1670.67 L397.46 1670.66 L394.77 1670.65 L392.09 1670.64 L389.40 1670.63 L386.71 1670.63 L384.02 1670.62 L381.33 1670.61 L378.65 1670.60 L375.96 1670.59 L373.27 1670.58 L370.58 1670.57 L367.90 1670.56 L365.21 1670.55Z"/><path d="M402.20 1673.70 L403.70 1667.70 L409.70 1673.20Z"/>
<path d="M391.00 1658.00 L391.00 1660.64 L391.00 1663.27 L391.00 1665.91 L391.00 1668.55 L391.00 1671.19 L391.00 1673.83 L391.00 1676.46 L391.00 1679.10 L391.00 1681.74 L391.00 1684.38 L391.00 1687.01 L391.00 1689.65 L391.00 1692.29 L391.00 1694.92 L391.00 1697.56 L391.00 1700.20 L395.60 1700.20 L395.60 1697.56 L395.60 1694.92 L395.60 1692.29 L395.60 1689.65 L395.60 1687.01 L395.60 1684.38 L395.60 1681.74 L395.60 1679.10 L395.60 1676.46 L395.60 1673.83 L395.60 1671.19 L395.60 1668.55 L395.60 1665.91 L395.60 1663.27 L395.60 1660.64 L395.60 1658.00Z"/>
<path d="M391.00 1658.00 L396.50 1659.50 L395.60 1662.50 L391.00 1662.50Z"/>
<path d="M393.91 1698.51 L393.26 1698.34 L392.62 1698.17 L391.97 1698.01 L391.33 1697.84 L390.68 1697.68 L390.03 1697.51 L389.39 1697.34 L388.74 1697.18 L388.09 1697.01 L387.45 1696.84 L386.80 1696.68 L386.16 1696.51 L385.51 1696.35 L384.86 1696.18 L384.22 1696.01 L383.57 1695.85 L383.03 1697.35 L383.63 1697.64 L384.24 1697.92 L384.84 1698.20 L385.44 1698.49 L386.05 1698.77 L386.65 1699.06 L387.26 1699.34 L387.86 1699.62 L388.46 1699.91 L389.07 1700.19 L389.67 1700.47 L390.27 1700.76 L390.88 1701.04 L391.48 1701.33 L392.09 1701.61 L392.69 1701.89Z"/><circle cx="393.30" cy="1700.20" r="1.80"/><circle cx="383.30" cy="1696.60" r="0.80"/>
<path d="M373.10 1677.59 L373.75 1677.98 L374.32 1678.38 L374.84 1678.80 L375.32 1679.26 L375.76 1679.73 L376.16 1680.23 L376.53 1680.76 L376.85 1681.31 L377.15 1681.89 L377.41 1682.50 L377.64 1683.14 L377.84 1683.81 L378.01 1684.51 L378.15 1685.25 L378.26 1686.02 L378.35 1686.89 L383.25 1685.91 L382.98 1684.97 L382.66 1684.00 L382.29 1683.08 L381.88 1682.20 L381.44 1681.37 L380.95 1680.58 L380.42 1679.83 L379.85 1679.14 L379.24 1678.49 L378.59 1677.89 L377.92 1677.35 L377.20 1676.86 L376.46 1676.42 L375.69 1676.03 L374.89 1675.69 L374.10 1675.41Z"/><circle cx="373.60" cy="1676.50" r="1.20"/><circle cx="380.80" cy="1686.40" r="2.50"/>
<path d="M417.10 1658.40 L417.10 1661.11 L417.10 1663.83 L417.10 1666.54 L417.10 1669.25 L417.10 1671.96 L417.10 1674.67 L417.10 1677.39 L417.10 1680.10 L417.10 1682.81 L417.10 1685.53 L417.10 1688.24 L417.10 1690.95 L417.10 1693.66 L417.10 1696.38 L417.10 1699.09 L417.10 1701.80 L420.90 1701.80 L420.90 1699.09 L420.90 1696.38 L420.90 1693.66 L420.90 1690.95 L420.90 1688.24 L420.90 1685.53 L420.90 1682.81 L420.90 1680.10 L420.90 1677.39 L420.90 1674.67 L420.90 1671.96 L420.90 1669.25 L420.90 1666.54 L420.90 1663.83 L420.90 1661.11 L420.90 1658.40Z"/>
<path d="M450.90 1658.40 L450.90 1661.09 L450.90 1663.78 L450.90 1666.46 L450.90 1669.15 L450.90 1671.84 L450.90 1674.53 L450.90 1677.21 L450.90 1679.90 L450.90 1682.59 L450.90 1685.28 L450.90 1687.96 L450.90 1690.65 L450.90 1693.34 L450.90 1696.03 L450.90 1698.71 L450.90 1701.40 L454.70 1701.40 L454.70 1698.71 L454.70 1696.03 L454.70 1693.34 L454.70 1690.65 L454.70 1687.96 L454.70 1685.28 L454.70 1682.59 L454.70 1679.90 L454.70 1677.21 L454.70 1674.53 L454.70 1671.84 L454.70 1669.15 L454.70 1666.46 L454.70 1663.78 L454.70 1661.09 L454.70 1658.40Z"/>
<path d="M419.00 1661.57 L421.11 1661.58 L423.22 1661.59 L425.34 1661.59 L427.45 1661.60 L429.56 1661.61 L431.68 1661.62 L433.79 1661.63 L435.90 1661.63 L438.01 1661.64 L440.12 1661.65 L442.24 1661.66 L444.35 1661.67 L446.46 1661.68 L448.57 1661.68 L450.69 1661.69 L452.80 1661.70 L452.80 1659.10 L450.69 1659.11 L448.57 1659.12 L446.46 1659.12 L444.35 1659.13 L442.24 1659.14 L440.12 1659.15 L438.01 1659.16 L435.90 1659.17 L433.79 1659.17 L431.68 1659.18 L429.56 1659.19 L427.45 1659.20 L425.34 1659.21 L423.22 1659.21 L421.11 1659.22 L419.00 1659.23Z"/>
<path d="M419.00 1698.27 L421.11 1698.28 L423.22 1698.29 L425.34 1698.29 L427.45 1698.30 L429.56 1698.31 L431.68 1698.32 L433.79 1698.33 L435.90 1698.33 L438.01 1698.34 L440.12 1698.35 L442.24 1698.36 L444.35 1698.37 L446.46 1698.38 L448.57 1698.38 L450.69 1698.39 L452.80 1698.40 L452.80 1695.80 L450.69 1695.81 L448.57 1695.82 L446.46 1695.82 L444.35 1695.83 L442.24 1695.84 L440.12 1695.85 L438.01 1695.86 L435.90 1695.87 L433.79 1695.87 L431.68 1695.88 L429.56 1695.89 L427.45 1695.90 L425.34 1695.91 L423.22 1695.91 L421.11 1695.92 L419.00 1695.93Z"/>
<path d="M430.06 1662.48 L429.73 1663.33 L429.39 1664.16 L429.03 1664.98 L428.65 1665.80 L428.26 1666.60 L427.84 1667.40 L427.41 1668.19 L426.96 1668.97 L426.49 1669.74 L426.01 1670.51 L425.50 1671.26 L424.98 1672.01 L424.44 1672.75 L423.88 1673.48 L423.30 1674.20 L422.70 1674.91 L423.70 1675.89 L424.41 1675.24 L425.10 1674.58 L425.78 1673.91 L426.44 1673.22 L427.09 1672.52 L427.72 1671.80 L428.34 1671.07 L428.94 1670.33 L429.52 1669.57 L430.09 1668.81 L430.64 1668.02 L431.17 1667.23 L431.69 1666.42 L432.19 1665.59 L432.68 1664.76 L433.14 1663.92Z"/><circle cx="431.60" cy="1663.20" r="1.70"/><circle cx="423.20" cy="1675.40" r="0.70"/>
<path d="M430.90 1667.37 L431.73 1667.38 L432.56 1667.39 L433.39 1667.39 L434.22 1667.40 L435.06 1667.41 L435.89 1667.42 L436.72 1667.43 L437.55 1667.43 L438.38 1667.44 L439.21 1667.45 L440.04 1667.46 L440.88 1667.47 L441.71 1667.48 L442.54 1667.48 L443.37 1667.49 L444.20 1667.50 L444.20 1664.90 L443.37 1664.91 L442.54 1664.92 L441.71 1664.92 L440.87 1664.93 L440.04 1664.94 L439.21 1664.95 L438.38 1664.96 L437.55 1664.97 L436.72 1664.97 L435.89 1664.98 L435.06 1664.99 L434.22 1665.00 L433.39 1665.01 L432.56 1665.01 L431.73 1665.02 L430.90 1665.03Z"/>
<path d="M442.90 1665.21 L442.02 1666.67 L441.09 1668.06 L440.10 1669.41 L439.04 1670.73 L437.91 1672.01 L436.70 1673.25 L435.43 1674.46 L434.09 1675.64 L432.67 1676.77 L431.18 1677.87 L429.62 1678.93 L427.99 1679.95 L426.29 1680.94 L424.51 1681.88 L422.66 1682.78 L420.73 1683.65 L421.27 1684.95 L423.27 1684.20 L425.22 1683.40 L427.11 1682.55 L428.94 1681.66 L430.70 1680.72 L432.40 1679.73 L434.04 1678.70 L435.61 1677.61 L437.13 1676.48 L438.58 1675.30 L439.96 1674.07 L441.29 1672.79 L442.54 1671.45 L443.74 1670.07 L444.86 1668.64 L445.90 1667.19Z"/><circle cx="444.40" cy="1666.20" r="1.80"/><circle cx="421.00" cy="1684.30" r="0.70"/>
<path d="M430.39 1678.12 L431.26 1678.76 L432.17 1679.38 L433.10 1679.98 L434.06 1680.55 L435.04 1681.10 L436.04 1681.63 L437.06 1682.13 L438.11 1682.60 L439.18 1683.05 L440.27 1683.47 L441.39 1683.87 L442.52 1684.24 L443.68 1684.59 L444.86 1684.91 L446.06 1685.20 L447.27 1685.47 L447.93 1681.73 L446.76 1681.57 L445.62 1681.39 L444.50 1681.19 L443.40 1680.96 L442.32 1680.71 L441.26 1680.43 L440.22 1680.13 L439.19 1679.80 L438.18 1679.45 L437.19 1679.07 L436.22 1678.67 L435.26 1678.25 L434.33 1677.80 L433.41 1677.32 L432.51 1676.82 L431.61 1676.28Z"/><circle cx="431.00" cy="1677.20" r="1.10"/><circle cx="447.60" cy="1683.60" r="1.90"/>
<path d="M432.72 1683.57 L433.30 1683.74 L433.82 1683.93 L434.31 1684.13 L434.76 1684.35 L435.18 1684.57 L435.56 1684.81 L435.91 1685.06 L436.22 1685.32 L436.51 1685.58 L436.76 1685.86 L436.99 1686.14 L437.18 1686.43 L437.35 1686.72 L437.50 1687.03 L437.63 1687.34 L437.75 1687.73 L441.05 1686.27 L440.80 1685.80 L440.49 1685.30 L440.14 1684.82 L439.77 1684.37 L439.36 1683.96 L438.93 1683.57 L438.46 1683.21 L437.98 1682.88 L437.46 1682.58 L436.93 1682.31 L436.37 1682.07 L435.79 1681.85 L435.19 1681.66 L434.57 1681.49 L433.92 1681.35 L433.28 1681.23Z"/><circle cx="433.00" cy="1682.40" r="1.20"/><circle cx="439.40" cy="1687.00" r="1.80"/>
<path d="M428.24 1689.79 L429.64 1690.01 L430.94 1690.25 L432.16 1690.52 L433.31 1690.80 L434.37 1691.11 L435.35 1691.43 L436.25 1691.77 L437.07 1692.13 L437.80 1692.51 L438.45 1692.89 L439.01 1693.28 L439.48 1693.67 L439.87 1694.07 L440.18 1694.46 L440.42 1694.83 L440.64 1695.30 L443.76 1693.50 L443.36 1692.89 L442.82 1692.24 L442.22 1691.64 L441.54 1691.10 L440.81 1690.61 L440.01 1690.15 L439.15 1689.74 L438.23 1689.37 L437.25 1689.02 L436.20 1688.71 L435.09 1688.43 L433.92 1688.17 L432.68 1687.94 L431.37 1687.74 L429.99 1687.56 L428.56 1687.41Z"/><circle cx="428.40" cy="1688.60" r="1.20"/><circle cx="442.20" cy="1694.40" r="1.80"/></g>
<text x="484" y="1696.5" font-family="Liberation Serif, serif" font-weight="bold" font-size="48.5" fill="#000">Dimensions</text>
</svg>
<svg class="dw" width="1809" height="2558" viewBox="0 0 1809 2558">
<g stroke-linecap="square" fill="none">
<line x1="318.5" y1="1826.8" x2="1249.5" y2="1826.8" stroke="#000" stroke-width="1.6" />
<line x1="318.5" y1="1821.0" x2="318.5" y2="1935.0" stroke="#000" stroke-width="1.6" />
<line x1="1249.2" y1="1821.0" x2="1249.2" y2="1950.0" stroke="#000" stroke-width="1.6" />
<line x1="773.4" y1="1821.5" x2="773.4" y2="1993.0" stroke="#000" stroke-width="1.6" />
<line x1="788.1" y1="1821.5" x2="788.1" y2="1993.0" stroke="#000" stroke-width="1.6" />
<line x1="435.4" y1="1760.0" x2="435.4" y2="1807.0" stroke="#000" stroke-width="1.6" />
<line x1="434.2" y1="1770.0" x2="434.2" y2="1780.0" stroke="#000" stroke-width="2.4" />
<line x1="437.6" y1="1809.0" x2="437.6" y2="1840.0" stroke="#000" stroke-width="1.6" />
<rect x="347.5" y="1840.5" width="180.5" height="16.0" rx="0" stroke="#000" stroke-width="3" fill="none" />
<line x1="374.0" y1="1839.3" x2="504.0" y2="1839.3" stroke="#000" stroke-width="3.2" />
<line x1="363.4" y1="1838.0" x2="363.4" y2="1862.0" stroke="#E3262A" stroke-width="1.4" />
<line x1="513.7" y1="1838.0" x2="513.7" y2="1862.0" stroke="#E3262A" stroke-width="1.4" />
<path d="M388.7 1857.5 Q392 1872 396 1886 Q402 1908 407 1918 Q412 1927 419 1934.5" stroke="#000" stroke-width="3" fill="none" />
<path d="M486.6 1857.5 Q484 1878 480 1893 Q476 1910 470 1920 Q464 1930 460 1935.5" stroke="#000" stroke-width="3" fill="none" />
<line x1="425.6" y1="1937.5" x2="455.2" y2="1937.5" stroke="#000" stroke-width="3" />
<path d="M401.0 1919.0 L401.0 1947.5 L410.0 1947.5 L414.5 1941.0 L418.5 1935.0" stroke="#000" stroke-width="3" fill="none" />
<line x1="400.7" y1="1934.7" x2="412.7" y2="1934.7" stroke="#E3262A" stroke-width="1.4" />
<line x1="438.2" y1="1836.0" x2="438.2" y2="1905.0" stroke="#E3262A" stroke-width="1.4" />
<line x1="438.2" y1="1910.0" x2="438.2" y2="1936.0" stroke="#E3262A" stroke-width="1.4" />
<line x1="438.2" y1="1954.0" x2="438.2" y2="2024.0" stroke="#E3262A" stroke-width="1.4" />
<line x1="431.0" y1="2030.2" x2="448.7" y2="2030.2" stroke="#E3262A" stroke-width="1.4" />
<rect x="319.5" y="1939.0" width="15.5" height="180.5" rx="0" stroke="#000" stroke-width="3" fill="none" />
<line x1="318.4" y1="1950.0" x2="318.4" y2="2105.0" stroke="#000" stroke-width="4.2" />
<line x1="316.6" y1="1955.0" x2="339.7" y2="1955.0" stroke="#E3262A" stroke-width="1.4" />
<line x1="316.6" y1="2104.6" x2="339.7" y2="2104.6" stroke="#E3262A" stroke-width="1.4" />
<path d="M335.0 1970.6 L377.6 1970.6 L381.3 1963.3 L386.8 1959.6 L403.4 1957.7 L410.8 1952.0 L414.5 1939.2" stroke="#000" stroke-width="3" fill="none" />
<path d="M335.0 2085.8 L377.0 2086.5 L383.9 2094.2 L400.8 2097.0 L411.6 2100.8 L414.6 2103.0" stroke="#000" stroke-width="3" fill="none" />
<line x1="376.0" y1="1978.5" x2="376.0" y2="2079.0" stroke="#000" stroke-width="3" />
<line x1="384.6" y1="1969.7" x2="384.6" y2="2088.8" stroke="#000" stroke-width="3" />
<line x1="402.8" y1="1969.7" x2="402.8" y2="2088.8" stroke="#000" stroke-width="3" />
<line x1="414.6" y1="1939.0" x2="414.6" y2="2103.0" stroke="#000" stroke-width="3" />
<path d="M414.6 2103 L406 2127 Q404.5 2133 409 2138.5 Q415 2144.7 424 2144.7 L452 2144.7 Q461 2144.7 465 2137 Q467 2130 467 2118.5" stroke="#000" stroke-width="3" fill="none" />
<line x1="465.2" y1="1940.0" x2="465.2" y2="2117.0" stroke="#000" stroke-width="3" />
<line x1="459.0" y1="1937.4" x2="465.2" y2="1942.0" stroke="#000" stroke-width="3" />
<path d="M402.3 2098.5 L397.7 2168.0" stroke="#000" stroke-width="3" fill="none" />
<path d="M477.8 2117.0 L483.9 2168.0" stroke="#000" stroke-width="3" fill="none" />
<line x1="434.3" y1="2146.0" x2="434.3" y2="2168.5" stroke="#000" stroke-width="3" />
<line x1="440.0" y1="2146.0" x2="440.0" y2="2168.5" stroke="#000" stroke-width="3" />
<rect x="389.0" y="2169.3" width="97.5" height="9.2" rx="0" stroke="#000" stroke-width="3" fill="none" />
<line x1="401.6" y1="2165.0" x2="401.6" y2="2185.0" stroke="#E3262A" stroke-width="1.4" />
<line x1="473.9" y1="2165.0" x2="473.9" y2="2185.0" stroke="#E3262A" stroke-width="1.4" />
<rect x="390.0" y="2121.0" width="9.2" height="31.4" rx="0" stroke="#000" stroke-width="3" fill="none" />
<path d="M390 2129 Q383 2130 383 2137 Q383 2144 390 2145 Z" stroke="#000" stroke-width="2" fill="#000" />
<line x1="393.0" y1="2136.2" x2="419.0" y2="2136.2" stroke="#E3262A" stroke-width="1.4" />
<line x1="438.3" y1="2033.0" x2="438.3" y2="2313.0" stroke="#000" stroke-width="1.6" />
<rect x="465.2" y="1941.0" width="38.0" height="174.2" rx="0" stroke="#000" stroke-width="3" fill="none" />
<line x1="484.7" y1="1941.0" x2="484.7" y2="2115.2" stroke="#000" stroke-width="3" />
<line x1="503.2" y1="1968.0" x2="603.0" y2="1968.0" stroke="#000" stroke-width="3" />
<path d="M603.0 1968.0 L706.7 1973.0 L712.2 1983.0 L723.3 1986.0" stroke="#000" stroke-width="3" fill="none" />
<path d="M634.7 1973.0 L708.0 1983.0" stroke="#000" stroke-width="2.5" fill="none" />
<line x1="600.8" y1="1968.0" x2="600.8" y2="2090.0" stroke="#000" stroke-width="3" />
<line x1="503.2" y1="2093.3" x2="571.0" y2="2093.3" stroke="#000" stroke-width="3" />
<path d="M571.0 2093.3 L572.0 2089.6 L600.8 2089.6" stroke="#000" stroke-width="3" fill="none" />
<path d="M600.8 2088.6 L696.7 2073.0 L704.0 2074.0 L712.0 2086.0" stroke="#000" stroke-width="3" fill="none" />
<path d="M611.7 2087.7 L693.0 2088.6 L700.0 2082.0 L705.0 2082.0" stroke="#000" stroke-width="2.5" fill="none" />
<line x1="721.5" y1="1985.3" x2="721.5" y2="2071.8" stroke="#000" stroke-width="3" />
<line x1="717.8" y1="1986.0" x2="717.8" y2="2071.0" stroke="#000" stroke-width="2.5" />
<rect x="518.9" y="1985.4" width="50.8" height="85.9" rx="4" stroke="#000" stroke-width="3" fill="none" />
<line x1="532.4" y1="1986.0" x2="532.4" y2="2071.0" stroke="#000" stroke-width="3" />
<line x1="532.4" y1="2017.7" x2="566.0" y2="2017.7" stroke="#000" stroke-width="3" />
<line x1="532.4" y1="2040.8" x2="566.0" y2="2040.8" stroke="#000" stroke-width="3" />
<rect x="564.0" y="2010.0" width="5.7" height="36.0" fill="#000"/>
<rect x="520.3" y="2093.3" width="16.0" height="32.7" rx="0" stroke="#000" stroke-width="3" fill="none" />
<line x1="528.6" y1="2083.0" x2="528.6" y2="2131.6" stroke="#E3262A" stroke-width="1.4" />
<rect x="588.6" y="2089.6" width="22.3" height="14.8" rx="0" stroke="#000" stroke-width="3" fill="none" />
<rect x="590.0" y="2101.0" width="16.0" height="5.0" fill="#000"/>
<line x1="601.6" y1="2089.0" x2="601.6" y2="2110.0" stroke="#E3262A" stroke-width="1.4" />
<circle cx="593.3" cy="1937.0" r="15.5" stroke="#000" stroke-width="3" fill="none" />
<circle cx="593.3" cy="1937.0" r="7.5" stroke="#000" stroke-width="2.6" fill="none" />
<line x1="585.0" y1="1950.0" x2="585.0" y2="1968.0" stroke="#000" stroke-width="3" />
<line x1="603.5" y1="1950.0" x2="604.5" y2="1968.0" stroke="#000" stroke-width="3" />
<line x1="575.3" y1="1937.0" x2="611.3" y2="1937.0" stroke="#E3262A" stroke-width="1.4" />
<line x1="593.3" y1="1937.0" x2="593.3" y2="1937.0" stroke="#E3262A" stroke-width="1.4" />
<line x1="593.3" y1="1917.0" x2="593.3" y2="1975.0" stroke="#E3262A" stroke-width="1.4" />
<rect x="615.5" y="1944.0" width="20.5" height="10.0" rx="3" stroke="#000" stroke-width="3" fill="none" />
<rect x="619.0" y="1954.0" width="14.0" height="13.0" rx="0" stroke="#000" stroke-width="3" fill="none" />
<line x1="624.5" y1="1942.0" x2="624.5" y2="1981.0" stroke="#E3262A" stroke-width="1.4" />
<rect x="643.9" y="1987.5" width="55.6" height="6.0" fill="#6E1C1C"/>
<path d="M643.9 1987.5 L640.8 1990.5 L643.9 1993.5Z" fill="#6E1C1C"/>
<rect x="643.9" y="2000.4" width="55.6" height="6.0" fill="#000"/>
<path d="M643.9 2000.4 L640.8 2003.4 L643.9 2006.4Z" fill="#000"/>
<rect x="643.9" y="2013.0" width="55.6" height="6.0" fill="#000"/>
<path d="M643.9 2013.0 L640.8 2016.0 L643.9 2019.0Z" fill="#000"/>
<rect x="643.9" y="2025.4" width="55.6" height="6.0" fill="#000"/>
<path d="M643.9 2025.4 L640.8 2028.4 L643.9 2031.4Z" fill="#000"/>
<rect x="643.9" y="2037.8" width="55.6" height="6.0" fill="#000"/>
<path d="M643.9 2037.8 L640.8 2040.8 L643.9 2043.8Z" fill="#000"/>
<rect x="643.9" y="2050.3" width="55.6" height="6.0" fill="#000"/>
<path d="M643.9 2050.3 L640.8 2053.3 L643.9 2056.3Z" fill="#000"/>
<rect x="643.9" y="2063.3" width="55.6" height="6.0" fill="#6E1C1C"/>
<path d="M643.9 2063.3 L640.8 2066.3 L643.9 2069.3Z" fill="#6E1C1C"/>
<line x1="680.8" y1="1987.0" x2="680.8" y2="2069.0" stroke="#000" stroke-width="3" />
<path d="M624 2008 L616 2008 Q612 2008 612 2012 L612 2022" stroke="#D23CD2" stroke-width="1.6" fill="none" stroke-dasharray="5 3"/>
<circle cx="614.3" cy="2047.5" r="9.0" stroke="#D23CD2" stroke-width="2" fill="none" />
<circle cx="614.3" cy="2047.5" r="4.0" stroke="#D23CD2" stroke-width="2" fill="none" />
<line x1="634.7" y1="2000.0" x2="634.7" y2="2074.0" stroke="#D23CD2" stroke-width="1.4" stroke-dasharray="6 3"/>
<line x1="605.0" y1="2041.0" x2="640.0" y2="2041.0" stroke="#D23CD2" stroke-width="1.4" stroke-dasharray="4 3"/>
<line x1="712.4" y1="2071.0" x2="712.4" y2="2122.0" stroke="#000" stroke-width="3" />
<line x1="717.0" y1="2071.0" x2="717.0" y2="2122.0" stroke="#000" stroke-width="3" />
<path d="M713 2080 L720 2080 Q723 2087 720 2095 L713 2095 Z" stroke="#000" stroke-width="2" fill="#000" />
<line x1="704.0" y1="2089.6" x2="727.2" y2="2089.6" stroke="#E3262A" stroke-width="1.4" />
<path d="M698.5 2123.7 L751.2 2123.7" stroke="#000" stroke-width="3" fill="none" />
<path d="M698.5 2123.7 L695.8 2182.5" stroke="#000" stroke-width="3" fill="none" />
<path d="M751.2 2123.7 L754.9 2182.5" stroke="#000" stroke-width="3" fill="none" />
<rect x="717.0" y="2120.0" width="27.7" height="4.0" fill="#000"/>
<path d="M725.5 2001 Q733 2008 737.5 2012.5 L741.5 2018 L741.5 2042 L737.5 2048 Q733 2053 725.5 2059 Z" stroke="#000" stroke-width="2" fill="#000" />
<line x1="745.0" y1="2020.0" x2="768.0" y2="2020.0" stroke="#D23CD2" stroke-width="1.6" stroke-dasharray="7 4"/>
<line x1="745.0" y1="2038.4" x2="768.0" y2="2038.4" stroke="#D23CD2" stroke-width="1.6" stroke-dasharray="7 4"/>
<rect x="743.6" y="2010.8" width="19.4" height="35.2" rx="0" stroke="#000" stroke-width="3" fill="none" />
<rect x="763.0" y="1998.8" width="5.6" height="61.9" rx="0" stroke="#000" stroke-width="3" fill="none" />
<rect x="768.6" y="1992.4" width="23.1" height="73.9" rx="0" stroke="#000" stroke-width="3" fill="none" />
<rect x="791.7" y="1998.8" width="4.6" height="61.9" rx="0" stroke="#000" stroke-width="3" fill="none" />
<rect x="796.3" y="2005.3" width="26.7" height="46.2" rx="0" stroke="#000" stroke-width="3" fill="none" />
<rect x="823.0" y="2011.8" width="30.5" height="34.2" rx="0" stroke="#000" stroke-width="3" fill="none" />
<rect x="723.3" y="1995.0" width="117.3" height="68.5" rx="0" stroke="#D23CD2" stroke-width="1.6" fill="none" stroke-dasharray="7 4"/>
<rect x="791.0" y="2012.7" width="47.0" height="34.3" rx="0" stroke="#D23CD2" stroke-width="1.6" fill="none" stroke-dasharray="7 4"/>
<path d="M853.5 2012 L856 2006 L864.6 2004 L864.6 1995.3 L874.9 1995.3 L874.9 1979.3 L893.9 1979.3 L893.9 1933.5 L906.8 1922.2 L910.5 1921.7" stroke="#000" stroke-width="3" fill="none" />
<path d="M853.5 2046.5 L856 2052 L864.6 2055 L864.6 2060.8 L874.9 2060.8 L874.9 2077.6 L893.9 2077.6 L893.9 2125.4 L910.5 2134.5" stroke="#000" stroke-width="3" fill="none" />
<line x1="864.6" y1="1995.3" x2="864.6" y2="2060.8" stroke="#000" stroke-width="3" />
<line x1="874.9" y1="1979.3" x2="874.9" y2="2077.6" stroke="#000" stroke-width="3" />
<line x1="893.9" y1="1933.5" x2="893.9" y2="2125.4" stroke="#000" stroke-width="3" />
<line x1="910.5" y1="1917.8" x2="910.5" y2="2148.7" stroke="#000" stroke-width="3" />
<line x1="910.5" y1="1917.8" x2="1218.9" y2="1917.8" stroke="#000" stroke-width="3" />
<path d="M1218.9 1917.8 Q1246 1917.8 1248.1 1951.4 L1248.1 2103.4 Q1246 2141 1215 2141 L1138.7 2141" stroke="#000" stroke-width="3" fill="none" />
<line x1="1134.8" y1="1917.8" x2="1134.8" y2="2133.2" stroke="#000" stroke-width="3" />
<rect x="910.5" y="2133.2" width="226.9" height="15.5" rx="0" stroke="#000" stroke-width="3" fill="none" />
<line x1="929.2" y1="2135.0" x2="929.2" y2="2150.0" stroke="#D23CD2" stroke-width="1.4" />
<line x1="933.0" y1="2135.0" x2="933.0" y2="2150.0" stroke="#D23CD2" stroke-width="1.4" />
<line x1="937.0" y1="2135.0" x2="937.0" y2="2150.0" stroke="#D23CD2" stroke-width="1.4" />
<line x1="1111.5" y1="2135.0" x2="1111.5" y2="2150.0" stroke="#D23CD2" stroke-width="1.4" />
<line x1="1115.0" y1="2135.0" x2="1115.0" y2="2150.0" stroke="#D23CD2" stroke-width="1.4" />
<line x1="1119.0" y1="2135.0" x2="1119.0" y2="2150.0" stroke="#D23CD2" stroke-width="1.4" />
<rect x="939.6" y="2001.3" width="56.3" height="54.3" rx="0" stroke="#000" stroke-width="3" fill="none" />
<circle cx="1024.1" cy="1898.4" r="9.5" stroke="#000" stroke-width="3" fill="none" />
<path d="M1003.0 1916.5 L1013.0 1906.0 L1017.0 1904.0" stroke="#000" stroke-width="3" fill="none" />
<path d="M1045.6 1916.5 L1035.0 1906.0 L1031.0 1904.0" stroke="#000" stroke-width="3" fill="none" />
<line x1="1006.8" y1="1898.4" x2="1041.7" y2="1898.4" stroke="#E3262A" stroke-width="1.4" />
<line x1="1024.1" y1="1882.8" x2="1024.1" y2="1928.1" stroke="#E3262A" stroke-width="1.4" />
<line x1="853.0" y1="2030.2" x2="1250.0" y2="2030.2" stroke="#E3262A" stroke-width="1.4" stroke-dasharray="17.5 15.5 100 16"/>
<line x1="368.4" y1="2178.6" x2="582.4" y2="2178.6" stroke="#000" stroke-width="3" />
<path d="M582.4 2178.6 L585.5 2183.2 L695.8 2183.2" stroke="#000" stroke-width="3" fill="none" />
<line x1="695.8" y1="2183.2" x2="900.8" y2="2183.4" stroke="#000" stroke-width="3" />
<path d="M900.8 2183.6 L903.4 2150.0 L903.4 2148.7 L1167.1 2148.7" stroke="#000" stroke-width="3" fill="none" />
<path d="M1167.1 2148.7 L1171.0 2230.0 L1173.6 2243.0" stroke="#000" stroke-width="3" fill="none" />
<path d="M368.4 2178.6 L368.4 2192.0 L362.0 2194.5 L362.0 2224.5 L364.5 2228.0 L363.7 2243.0" stroke="#000" stroke-width="3" fill="none" />
<line x1="357.3" y1="2209.8" x2="381.3" y2="2209.8" stroke="#E3262A" stroke-width="1.4" />
<line x1="460.8" y1="2178.6" x2="460.8" y2="2243.0" stroke="#000" stroke-width="3" />
<line x1="512.4" y1="2178.6" x2="512.4" y2="2243.0" stroke="#000" stroke-width="3" />
<line x1="733.6" y1="2183.2" x2="733.6" y2="2243.0" stroke="#000" stroke-width="3" />
<line x1="785.4" y1="2183.2" x2="785.4" y2="2243.0" stroke="#000" stroke-width="3" />
<line x1="1005.5" y1="2148.7" x2="1005.5" y2="2243.0" stroke="#000" stroke-width="3" />
<line x1="1058.5" y1="2148.7" x2="1058.5" y2="2243.0" stroke="#000" stroke-width="3" />
<rect x="361.0" y="2243.6" width="812.6" height="18.8" rx="0" stroke="#000" stroke-width="3" fill="none" />
<circle cx="576.4" cy="2229.6" r="13.2" stroke="#000" stroke-width="3" fill="none" />
<line x1="555.4" y1="2229.6" x2="597.4" y2="2229.6" stroke="#E3262A" stroke-width="1.4" />
<line x1="576.4" y1="2208.6" x2="576.4" y2="2251.6" stroke="#E3262A" stroke-width="1.4" />
<circle cx="959.0" cy="2229.6" r="13.2" stroke="#000" stroke-width="3" fill="none" />
<line x1="938.0" y1="2229.6" x2="980.0" y2="2229.6" stroke="#E3262A" stroke-width="1.4" />
<line x1="959.0" y1="2208.6" x2="959.0" y2="2251.6" stroke="#E3262A" stroke-width="1.4" />
<line x1="789.6" y1="2238.0" x2="789.6" y2="2260.0" stroke="#E3262A" stroke-width="1.4" />
<line x1="1032.7" y1="2238.0" x2="1032.7" y2="2262.0" stroke="#E3262A" stroke-width="1.4" />
<line x1="1032.7" y1="2243.0" x2="1076.6" y2="2213.4" stroke="#000" stroke-width="1.4" />
<line x1="1076.6" y1="2213.4" x2="1132.2" y2="2213.4" stroke="#000" stroke-width="1.6" />
<line x1="183.2" y1="2030.0" x2="245.7" y2="2030.0" stroke="#000" stroke-width="1.6" />
<line x1="225.0" y1="2029.7" x2="235.0" y2="2029.7" stroke="#000" stroke-width="3" />
<line x1="283.3" y1="2030.0" x2="318.0" y2="2030.0" stroke="#000" stroke-width="1.6" />
<line x1="308.9" y1="2030.2" x2="415.0" y2="2030.2" stroke="#E3262A" stroke-width="1.4" />
<line x1="464.4" y1="2030.2" x2="853.0" y2="2030.2" stroke="#E3262A" stroke-width="1.4" />
<line x1="290.5" y1="2030.0" x2="290.5" y2="2263.0" stroke="#000" stroke-width="1.6" />
<line x1="283.3" y1="2263.2" x2="362.0" y2="2263.2" stroke="#000" stroke-width="1.6" />
<line x1="361.2" y1="2262.0" x2="361.2" y2="2471.0" stroke="#000" stroke-width="1.6" />
<line x1="438.6" y1="2262.0" x2="438.6" y2="2313.0" stroke="#000" stroke-width="1.6" />
<line x1="362.1" y1="2305.9" x2="438.6" y2="2305.9" stroke="#000" stroke-width="1.6" />
<line x1="362.1" y1="2348.7" x2="789.8" y2="2348.7" stroke="#000" stroke-width="1.6" />
<line x1="488.1" y1="2241.0" x2="488.1" y2="2414.4" stroke="#000" stroke-width="1.6" />
<line x1="789.8" y1="2260.0" x2="789.8" y2="2353.5" stroke="#000" stroke-width="1.6" />
<line x1="488.1" y1="2407.9" x2="1032.7" y2="2407.9" stroke="#000" stroke-width="1.6" />
<line x1="1032.7" y1="2260.0" x2="1032.7" y2="2414.0" stroke="#000" stroke-width="1.6" />
<line x1="362.1" y1="2466.2" x2="1176.0" y2="2466.2" stroke="#000" stroke-width="1.6" />
<line x1="1176.0" y1="2230.0" x2="1176.0" y2="2474.0" stroke="#000" stroke-width="1.6" />
<rect x="1384.3" y="1842.2" width="180.6" height="15.9" rx="0" stroke="#000" stroke-width="3" fill="none" />
<line x1="1409.8" y1="1840.8" x2="1540.5" y2="1840.8" stroke="#000" stroke-width="3.2" />
<line x1="1399.8" y1="1840.0" x2="1399.8" y2="1864.0" stroke="#E3262A" stroke-width="1.4" />
<line x1="1550.5" y1="1840.0" x2="1550.5" y2="1864.0" stroke="#E3262A" stroke-width="1.4" />
<line x1="1475.2" y1="1836.6" x2="1475.2" y2="1925.0" stroke="#E3262A" stroke-width="1.4" />
<line x1="1475.2" y1="1932.0" x2="1475.2" y2="1985.0" stroke="#E3262A" stroke-width="1.4" />
<line x1="1475.2" y1="1992.0" x2="1475.2" y2="2130.0" stroke="#E3262A" stroke-width="1.4" />
<line x1="1414.2" y1="1883.6" x2="1558.3" y2="1883.6" stroke="#E3262A" stroke-width="1.4" />
<path d="M1418.2 1858.8 L1418.2 1931.5" stroke="#000" stroke-width="3" fill="none" />
<path d="M1418.4 1931.5 Q1413 1948 1406 1960" stroke="#000" stroke-width="3" fill="none" />
<path d="M1406 1960 Q1428 1943 1466 1936.5" stroke="#000" stroke-width="3" fill="none" />
<path d="M1427.6 1859.4 L1427.6 1866.7 L1430.0 1866.7 L1430.0 1872.7 L1434.5 1884.5 L1454.2 1919.0" stroke="#000" stroke-width="3" fill="none" />
<path d="M1454.2 1919 L1463 1925 Q1467 1929 1465.5 1933.5 L1447 1934.8 L1449.3 1921.4 Z" stroke="#000" stroke-width="2.8" fill="none" />
<line x1="1418.2" y1="1872.7" x2="1430.0" y2="1872.7" stroke="#000" stroke-width="3" />
<line x1="1418.2" y1="1894.3" x2="1436.5" y2="1894.3" stroke="#000" stroke-width="3" />
<line x1="1549.4" y1="1858.8" x2="1549.4" y2="1896.5" stroke="#000" stroke-width="3" />
<path d="M1524 1860 Q1526 1878 1536 1887 Q1543 1893 1549.4 1896.5" stroke="#000" stroke-width="3" fill="none" />
<line x1="1529.0" y1="1872.0" x2="1549.0" y2="1872.0" stroke="#000" stroke-width="3" />
<path d="M1549.4 1896.5 Q1580 1915 1598 1945 Q1619 1985 1619.5 2030.6 Q1619 2080 1590 2106 Q1565 2130 1532 2145" stroke="#000" stroke-width="3" fill="none" />
<path d="M1406 1960 Q1384 1975 1376 2000 Q1368 2035 1374 2065 Q1382 2100 1402 2117 Q1414 2127 1431 2133" stroke="#000" stroke-width="3" fill="none" />
<circle cx="1475.2" cy="2031.7" r="87.6" stroke="#000" stroke-width="3" fill="none" />
<circle cx="1475.2" cy="2031.7" r="64.3" stroke="#000" stroke-width="3" fill="none" />
<circle cx="1475.2" cy="2031.7" r="43.8" stroke="#000" stroke-width="3" fill="none" />
<circle cx="1475.2" cy="2031.7" r="75.8" stroke="#E3262A" stroke-width="1.3" fill="none" stroke-dasharray="30 8 5 8"/>
<circle cx="1545.2" cy="2002.7" r="6.3" stroke="#000" stroke-width="2.6" fill="none" />
<line x1="1541.2" y1="2005.7" x2="1549.2" y2="1999.7" stroke="#E3262A" stroke-width="1.2" />
<circle cx="1504.2" cy="1961.7" r="6.3" stroke="#000" stroke-width="2.6" fill="none" />
<line x1="1500.2" y1="1964.7" x2="1508.2" y2="1958.7" stroke="#E3262A" stroke-width="1.2" />
<circle cx="1446.2" cy="1961.7" r="6.3" stroke="#000" stroke-width="2.6" fill="none" />
<line x1="1442.2" y1="1964.7" x2="1450.2" y2="1958.7" stroke="#E3262A" stroke-width="1.2" />
<circle cx="1405.2" cy="2002.7" r="6.3" stroke="#000" stroke-width="2.6" fill="none" />
<line x1="1401.2" y1="2005.7" x2="1409.2" y2="1999.7" stroke="#E3262A" stroke-width="1.2" />
<circle cx="1405.2" cy="2060.7" r="6.3" stroke="#000" stroke-width="2.6" fill="none" />
<line x1="1401.2" y1="2063.7" x2="1409.2" y2="2057.7" stroke="#E3262A" stroke-width="1.2" />
<circle cx="1446.2" cy="2101.7" r="6.3" stroke="#000" stroke-width="2.6" fill="none" />
<line x1="1442.2" y1="2104.7" x2="1450.2" y2="2098.7" stroke="#E3262A" stroke-width="1.2" />
<circle cx="1504.2" cy="2101.7" r="6.3" stroke="#000" stroke-width="2.6" fill="none" />
<line x1="1500.2" y1="2104.7" x2="1508.2" y2="2098.7" stroke="#E3262A" stroke-width="1.2" />
<circle cx="1545.2" cy="2060.7" r="6.3" stroke="#000" stroke-width="2.6" fill="none" />
<line x1="1541.2" y1="2063.7" x2="1549.2" y2="2057.7" stroke="#E3262A" stroke-width="1.2" />
<line x1="1368.7" y1="2031.7" x2="1465.0" y2="2031.7" stroke="#E3262A" stroke-width="1.4" />
<line x1="1485.0" y1="2031.7" x2="1510.0" y2="2031.7" stroke="#E3262A" stroke-width="1.4" />
<line x1="1520.0" y1="2031.7" x2="1620.0" y2="2031.7" stroke="#E3262A" stroke-width="1.4" />
<path d="M1326.6 2038.4 L1326.6 2007 Q1326.6 2001.8 1332 2001.8 L1358 2001.8 Q1363.2 2001.8 1363.2 2007 L1363.2 2038.4" stroke="#000" stroke-width="3" fill="none" />
<rect x="1322.2" y="2038.4" width="43.2" height="4.6" fill="#000"/>
<path d="M1336.6 2043.0 L1336.6 2059.4 L1343.3 2063.8 L1369.9 2063.8" stroke="#000" stroke-width="3" fill="none" />
<path d="M1354.3 2043.0 L1354.3 2051.7 L1369.9 2051.7" stroke="#000" stroke-width="3" fill="none" />
<line x1="1344.4" y1="1992.9" x2="1344.4" y2="2070.5" stroke="#E3262A" stroke-width="1.4" />
<path d="M1376.5 2080.0 L1354.3 2173.1" stroke="#000" stroke-width="3" fill="none" />
<path d="M1584.9 2108.8 L1594.9 2173.1" stroke="#000" stroke-width="3" fill="none" />
<path d="M1447.4 2131.0 L1400.9 2170.9" stroke="#000" stroke-width="2.6" fill="none" />
<path d="M1451.0 2133.0 L1405.0 2172.0" stroke="#000" stroke-width="2.6" fill="none" />
<path d="M1502.9 2131.0 L1548.3 2170.9" stroke="#000" stroke-width="2.6" fill="none" />
<path d="M1499.0 2133.0 L1544.0 2172.0" stroke="#000" stroke-width="2.6" fill="none" />
<line x1="1449.3" y1="2143.2" x2="1449.3" y2="2184.2" stroke="#000" stroke-width="3" />
<line x1="1503.8" y1="2143.8" x2="1503.8" y2="2184.2" stroke="#000" stroke-width="3" />
<path d="M1459.5 2154.2 L1459.5 2136 Q1460 2123 1475.2 2122.4 Q1490 2123 1490.5 2136 L1490.5 2154.2 Z" stroke="#000" stroke-width="3" fill="none" />
<circle cx="1475.2" cy="2138.2" r="5.2" stroke="#000" stroke-width="3.4" fill="none" />
<line x1="1462.2" y1="2138.2" x2="1488.2" y2="2138.2" stroke="#E3262A" stroke-width="1.4" />
<line x1="1475.2" y1="2129.2" x2="1475.2" y2="2147.2" stroke="#E3262A" stroke-width="1.4" />
<line x1="1449.0" y1="2143.8" x2="1459.5" y2="2143.8" stroke="#000" stroke-width="3" />
<line x1="1490.5" y1="2143.8" x2="1504.0" y2="2143.8" stroke="#000" stroke-width="3" />
<path d="M1421 2130.8 Q1418 2136 1421 2140 Q1426 2143 1428 2137 Q1430 2131 1436 2126" stroke="#000" stroke-width="2.6" fill="none" />
<path d="M1541.6 2140.6 Q1533 2143 1534 2149 Q1538 2153 1541 2147 Q1542 2142 1540 2138" stroke="#000" stroke-width="2.6" fill="none" />
<path d="M1516 2126 Q1512 2131 1514 2134" stroke="#000" stroke-width="2.4" fill="none" />
<path d="M1351.0 2180.9 L1353.2 2170.9 L1400.9 2170.9" stroke="#000" stroke-width="3" fill="none" />
<path d="M1548.3 2170.9 L1594.9 2170.9 L1600.4 2180.9" stroke="#000" stroke-width="3" fill="none" />
<rect x="1370.0" y="2176.4" width="22.0" height="4.6" fill="#000"/>
<rect x="1558.0" y="2176.4" width="24.7" height="4.6" fill="#000"/>
<line x1="1381.0" y1="2168.0" x2="1381.0" y2="2184.0" stroke="#E3262A" stroke-width="1.4" />
<line x1="1570.0" y1="2168.0" x2="1570.0" y2="2184.0" stroke="#E3262A" stroke-width="1.4" />
<path d="M1351.0 2180.9 L1416.4 2180.9 L1420.8 2186.4 L1531.7 2186.4 L1536.1 2180.9 L1600.4 2180.9" stroke="#000" stroke-width="3" fill="none" />
<line x1="1351.0" y1="2180.9" x2="1348.8" y2="2245.2" stroke="#000" stroke-width="3" />
<line x1="1600.4" y1="2180.9" x2="1604.8" y2="2245.2" stroke="#000" stroke-width="3" />
<path d="M1344.4 2245.2 L1431.9 2245.2 L1435.2 2234.0 L1517.3 2234.0 L1518.4 2245.2 L1607.0 2245.2" stroke="#000" stroke-width="3" fill="none" />
<path d="M1344.4 2245.2 L1344.4 2264.0 L1444.1 2264.0 L1446.0 2246.3 L1505.0 2246.3 L1506.2 2264.0 L1607.0 2264.0 L1607.0 2245.2" stroke="#000" stroke-width="3" fill="none" />
<circle cx="1475.2" cy="2210.8" r="13.5" stroke="#000" stroke-width="3" fill="none" />
<circle cx="1475.2" cy="2210.8" r="7.5" stroke="#000" stroke-width="2.4" fill="none" />
<line x1="1454.2" y1="2210.8" x2="1496.2" y2="2210.8" stroke="#E3262A" stroke-width="1.4" />
<line x1="1475.2" y1="2194.8" x2="1475.2" y2="2226.8" stroke="#E3262A" stroke-width="1.4" />
<line x1="1475.2" y1="2166.5" x2="1475.2" y2="2250.7" stroke="#E3262A" stroke-width="1.4" />
<line x1="1357.2" y1="2243.0" x2="1357.2" y2="2312.8" stroke="#E3262A" stroke-width="1.4" />
<line x1="1595.3" y1="2243.0" x2="1595.3" y2="2312.8" stroke="#E3262A" stroke-width="1.4" />
<line x1="1357.2" y1="2307.2" x2="1595.3" y2="2307.2" stroke="#000" stroke-width="1.6" />
<line x1="1357.2" y1="2264.0" x2="1357.2" y2="2312.0" stroke="#000" stroke-width="1.6" />
<line x1="1595.3" y1="2264.0" x2="1595.3" y2="2312.0" stroke="#000" stroke-width="1.6" />
<line x1="1345.5" y1="2264.0" x2="1345.5" y2="2363.8" stroke="#000" stroke-width="1.6" />
<line x1="1607.0" y1="2264.0" x2="1607.0" y2="2363.8" stroke="#000" stroke-width="1.6" />
<line x1="1345.5" y1="2357.1" x2="1607.0" y2="2357.1" stroke="#000" stroke-width="1.6" />
<line x1="1565.0" y1="1842.2" x2="1652.5" y2="1842.2" stroke="#000" stroke-width="1.6" />
<line x1="1645.8" y1="1842.2" x2="1645.8" y2="2182.0" stroke="#000" stroke-width="1.6" />
<line x1="1620.3" y1="2031.7" x2="1652.5" y2="2031.7" stroke="#000" stroke-width="1.6" />
<line x1="1600.4" y1="2182.0" x2="1653.6" y2="2182.0" stroke="#000" stroke-width="1.6" />
</g>
<g font-family="Liberation Serif, serif" fill="#000" stroke="#000" stroke-width="0.6">
<text x="371.4" y="1819.3" font-size="36.6" textLength="11.1" lengthAdjust="spacingAndGlyphs">A</text>
<text x="598.5" y="1819.7" font-size="38.0" textLength="12.6" lengthAdjust="spacingAndGlyphs">F</text>
<text x="737.0" y="1819.7" font-size="37.7" textLength="12.6" lengthAdjust="spacingAndGlyphs">X</text>
<text x="1011.7" y="1819.5" font-size="37.4" textLength="12.7" lengthAdjust="spacingAndGlyphs">K</text>
<text x="530.7" y="1794.3" font-size="38.0" textLength="8.8" lengthAdjust="spacingAndGlyphs">D</text>
<text x="546.3" y="1794.3" font-size="38.0" textLength="12.6" lengthAdjust="spacingAndGlyphs">N</text>
<text x="562.0" y="1794.3" font-size="36.5" textLength="10.8" lengthAdjust="spacingAndGlyphs">d</text>
<text x="220.6" y="2012.9" font-size="38.6" textLength="9.4" lengthAdjust="spacingAndGlyphs">D</text>
<text x="236.6" y="2012.9" font-size="38.6" textLength="11.8" lengthAdjust="spacingAndGlyphs">N</text>
<text x="252.6" y="2012.9" font-size="40.0" textLength="10.2" lengthAdjust="spacingAndGlyphs">s</text>
<text x="393.5" y="2301.0" font-size="37.2" textLength="9.7" lengthAdjust="spacingAndGlyphs">i</text>
<text x="410.5" y="2340.7" font-size="38.9" textLength="24.7" lengthAdjust="spacingAndGlyphs">L3</text>
<text x="624.4" y="2340.7" font-size="38.9" textLength="26.1" lengthAdjust="spacingAndGlyphs">L2</text>
<text x="746.2" y="2400.2" font-size="36.8" textLength="24.7" lengthAdjust="spacingAndGlyphs">L1</text>
<text x="761.7" y="2458.3" font-size="36.8" textLength="10.6" lengthAdjust="spacingAndGlyphs">L</text>
<text x="1463.8" y="2300.6" font-size="39.1" textLength="23.8" lengthAdjust="spacingAndGlyphs">B1</text>
<text x="1469.3" y="2350.4" font-size="37.3" textLength="12.8" lengthAdjust="spacingAndGlyphs">B</text>
<text x="1075.0" y="2208.2" font-size="26.8" textLength="53.7" lengthAdjust="spacingAndGlyphs">n-Ød</text>
<text transform="translate(283.3 2157.3) rotate(-90)" x="0" y="0" font-size="39.1" textLength="22.4" lengthAdjust="spacingAndGlyphs">H1</text>
<text transform="translate(1640.3 1948.6) rotate(-90)" x="0" y="0" font-size="37.1" textLength="24.4" lengthAdjust="spacingAndGlyphs">H2</text>
<text transform="translate(1640.3 2111.0) rotate(-90)" x="0" y="0" font-size="38.9" textLength="11.0" lengthAdjust="spacingAndGlyphs">H</text>
</g>

<g fill="none" stroke="#000" stroke-width="2.4" stroke-linecap="square">
<path d="M457.5 1767 L457.5 1795.5"/>
<path d="M450.3 1771.5 L450.3 1781 L464.7 1781 L464.7 1771.5"/>
<path d="M449.3 1784.5 L449.3 1795.5 L465.8 1795.5 L465.8 1784.5"/>
<path d="M478.3 1771.3 L492 1771.3 L492 1793 L478.3 1793 Z"/>
<path d="M478.3 1771.3 L478.3 1795"/>
<path d="M139 1986.5 L141.5 1989"/>
<path d="M137.8 1994.5 L141.5 1994.5 L141.5 2008 L138.5 2011.5"/>
<path d="M141.5 2010 Q146 2013.5 158.4 2014"/>
<path d="M144 1991.5 L158 1991.5"/>
<path d="M143.5 1999 L158.4 1999"/>
<path d="M148 1985 L148 1999 Q147.5 2004 144.5 2007"/>
<path d="M154 1985 L154 2007.5"/>
<path d="M169.8 1988.6 L183.8 1988.6 L183.8 2011 L169.8 2011 Z"/>
<path d="M169.8 1988.6 L169.8 2013.5"/>
</g>
</svg>
</body></html>
